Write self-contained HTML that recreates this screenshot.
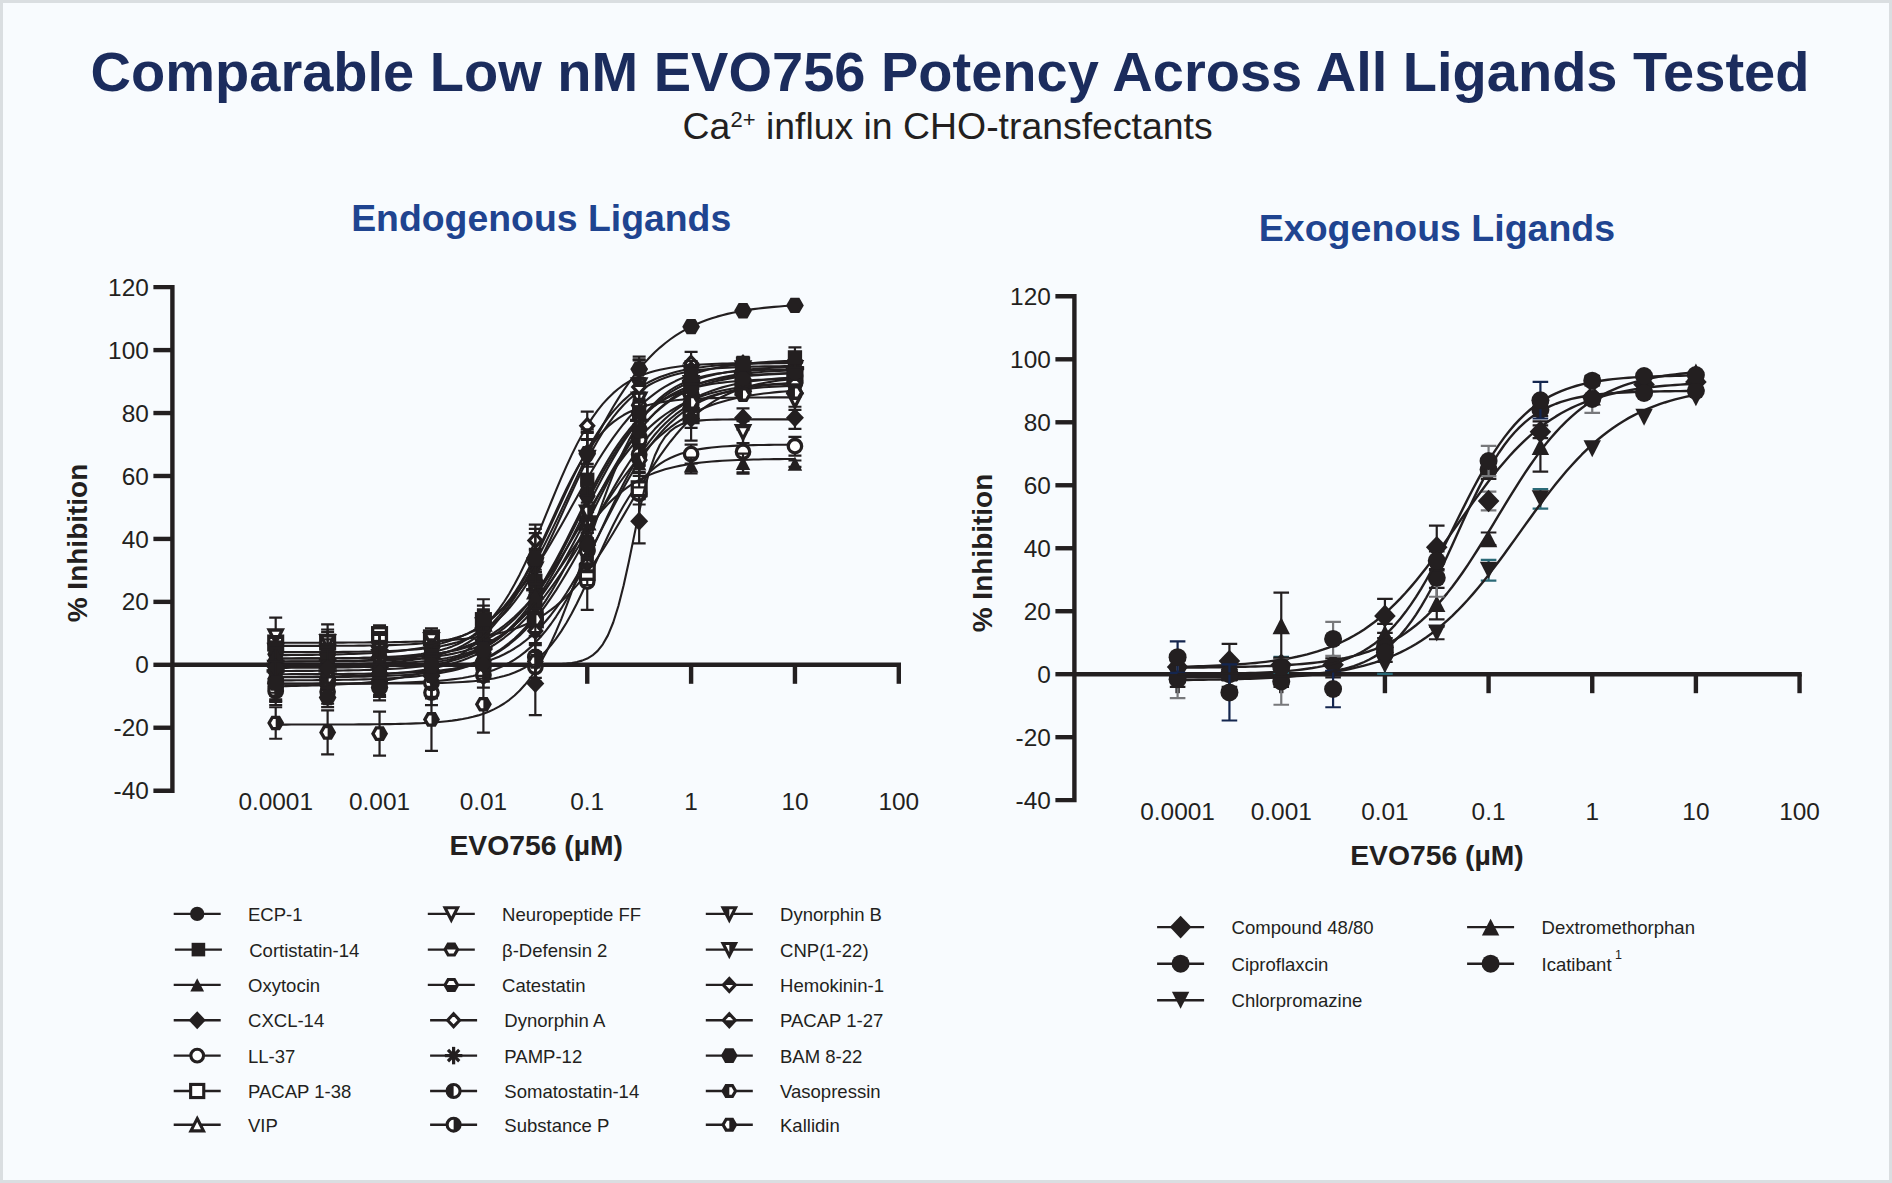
<!DOCTYPE html>
<html lang="en"><head><meta charset="utf-8"><title>Comparable Low nM EVO756 Potency Across All Ligands Tested</title>
<style>
html,body{margin:0;padding:0;background:#f8fbfe;}
body{width:1892px;height:1183px;overflow:hidden;position:relative;}
svg{position:absolute;left:0;top:0;display:block;}
svg text{font-family:"Liberation Sans", Arial, Helvetica, sans-serif;fill:#231f20;}
</style></head><body>
<svg width="1892" height="1183" viewBox="0 0 1892 1183">
<rect x="0" y="0" width="1892" height="1183" fill="#dadee1"/>
<rect x="3" y="3" width="1886" height="1177" fill="#f8fbfe"/>

<text x="950" y="90.7" text-anchor="middle" font-size="56" font-weight="bold" style="fill:#1b2c5d">Comparable Low nM EVO756 Potency Across All Ligands Tested</text>
<text x="682.6" y="139.3" font-size="37.4">Ca<tspan font-size="22" dy="-12.3">2+</tspan><tspan dy="12.3"> influx in CHO-transfectants</tspan></text>
<text x="541.2" y="231.2" text-anchor="middle" font-size="37.4" font-weight="bold" style="fill:#1f4490">Endogenous Ligands</text>
<text x="1437" y="241.2" text-anchor="middle" font-size="37.5" font-weight="bold" style="fill:#1f4490">Exogenous Ligands</text>
<g id="left-chart">
<path d="M153.4,287.16 H172.4 V790.68 H153.4" fill="none" stroke="#231f20" stroke-width="4.4" stroke-linejoin="miter"/>
<line x1="153.4" y1="727.74" x2="172.4" y2="727.74" stroke="#231f20" stroke-width="4.4"/>
<line x1="153.4" y1="664.8" x2="172.4" y2="664.8" stroke="#231f20" stroke-width="4.4"/>
<line x1="153.4" y1="601.86" x2="172.4" y2="601.86" stroke="#231f20" stroke-width="4.4"/>
<line x1="153.4" y1="538.92" x2="172.4" y2="538.92" stroke="#231f20" stroke-width="4.4"/>
<line x1="153.4" y1="475.98" x2="172.4" y2="475.98" stroke="#231f20" stroke-width="4.4"/>
<line x1="153.4" y1="413.04" x2="172.4" y2="413.04" stroke="#231f20" stroke-width="4.4"/>
<line x1="153.4" y1="350.1" x2="172.4" y2="350.1" stroke="#231f20" stroke-width="4.4"/>
<line x1="172.4" y1="664.8" x2="901" y2="664.8" stroke="#231f20" stroke-width="4.4"/>
<line x1="275.7" y1="664.8" x2="275.7" y2="683.8" stroke="#231f20" stroke-width="4.4"/>
<line x1="379.55" y1="664.8" x2="379.55" y2="683.8" stroke="#231f20" stroke-width="4.4"/>
<line x1="483.4" y1="664.8" x2="483.4" y2="683.8" stroke="#231f20" stroke-width="4.4"/>
<line x1="587.25" y1="664.8" x2="587.25" y2="683.8" stroke="#231f20" stroke-width="4.4"/>
<line x1="691.1" y1="664.8" x2="691.1" y2="683.8" stroke="#231f20" stroke-width="4.4"/>
<line x1="794.95" y1="664.8" x2="794.95" y2="683.8" stroke="#231f20" stroke-width="4.4"/>
<line x1="898.8" y1="664.8" x2="898.8" y2="683.8" stroke="#231f20" stroke-width="4.4"/>
<text x="148.8" y="799.28" text-anchor="end" font-size="24.4">-40</text>
<text x="148.8" y="736.34" text-anchor="end" font-size="24.4">-20</text>
<text x="148.8" y="673.4" text-anchor="end" font-size="24.4">0</text>
<text x="148.8" y="610.46" text-anchor="end" font-size="24.4">20</text>
<text x="148.8" y="547.52" text-anchor="end" font-size="24.4">40</text>
<text x="148.8" y="484.58" text-anchor="end" font-size="24.4">60</text>
<text x="148.8" y="421.64" text-anchor="end" font-size="24.4">80</text>
<text x="148.8" y="358.7" text-anchor="end" font-size="24.4">100</text>
<text x="148.8" y="295.76" text-anchor="end" font-size="24.4">120</text>
<text x="275.7" y="809.88" text-anchor="middle" font-size="24.4">0.0001</text>
<text x="379.55" y="809.88" text-anchor="middle" font-size="24.4">0.001</text>
<text x="483.4" y="809.88" text-anchor="middle" font-size="24.4">0.01</text>
<text x="587.25" y="809.88" text-anchor="middle" font-size="24.4">0.1</text>
<text x="691.1" y="809.88" text-anchor="middle" font-size="24.4">1</text>
<text x="794.95" y="809.88" text-anchor="middle" font-size="24.4">10</text>
<text x="898.8" y="809.88" text-anchor="middle" font-size="24.4">100</text>
<g>
<path d="M275.7,674.64 V699.38 M269.2,674.64 H282.2 M269.2,699.38 H282.2" fill="none" stroke="#231f20" stroke-width="2.2"/>
<path d="M327.62,679.59 V703.77 M321.12,679.59 H334.12 M321.12,703.77 H334.12" fill="none" stroke="#231f20" stroke-width="2.2"/>
<path d="M379.55,669.02 V697.02 M373.05,669.02 H386.05 M373.05,697.02 H386.05" fill="none" stroke="#231f20" stroke-width="2.2"/>
<path d="M431.47,680.02 V705.19 M424.97,680.02 H437.97 M424.97,705.19 H437.97" fill="none" stroke="#231f20" stroke-width="2.2"/>
<path d="M483.4,658.07 V676.95 M476.9,658.07 H489.9 M476.9,676.95 H489.9" fill="none" stroke="#231f20" stroke-width="2.2"/>
<path d="M535.33,652.26 V681.71 M528.83,652.26 H541.83 M528.83,681.71 H541.83" fill="none" stroke="#231f20" stroke-width="2.2"/>
<path d="M587.25,553.23 V609.87 M580.75,553.23 H593.75 M580.75,609.87 H593.75" fill="none" stroke="#231f20" stroke-width="2.2"/>
<path d="M639.17,465.94 V521.86 M632.67,465.94 H645.67 M632.67,521.86 H645.67" fill="none" stroke="#231f20" stroke-width="2.2"/>
<path d="M691.1,444.59 V463.48 M684.6,444.59 H697.6 M684.6,463.48 H697.6" fill="none" stroke="#231f20" stroke-width="2.2"/>
<path d="M743.02,429.71 V473.77 M736.52,429.71 H749.52 M736.52,473.77 H749.52" fill="none" stroke="#231f20" stroke-width="2.2"/>
<path d="M794.95,436.78 V455.66 M788.45,436.78 H801.45 M788.45,455.66 H801.45" fill="none" stroke="#231f20" stroke-width="2.2"/>
<path d="M275.7,683.68 L280.89,683.68 L286.08,683.68 L291.28,683.68 L296.47,683.68 L301.66,683.68 L306.85,683.68 L312.05,683.68 L317.24,683.67 L322.43,683.67 L327.62,683.67 L332.82,683.67 L338.01,683.67 L343.2,683.66 L348.39,683.66 L353.59,683.65 L358.78,683.65 L363.97,683.64 L369.16,683.63 L374.36,683.62 L379.55,683.61 L384.74,683.59 L389.94,683.57 L395.13,683.55 L400.32,683.52 L405.51,683.49 L410.7,683.44 L415.9,683.39 L421.09,683.33 L426.28,683.25 L431.47,683.16 L436.67,683.05 L441.86,682.92 L447.05,682.75 L452.25,682.55 L457.44,682.31 L462.63,682.02 L467.82,681.67 L473.01,681.24 L478.21,680.72 L483.4,680.1 L488.59,679.34 L493.78,678.43 L498.98,677.33 L504.17,676.01 L509.36,674.43 L514.55,672.53 L519.75,670.27 L524.94,667.58 L530.13,664.4 L535.33,660.66 L540.52,656.29 L545.71,651.2 L550.9,645.34 L556.1,638.66 L561.29,631.11 L566.48,622.7 L571.67,613.45 L576.87,603.42 L582.06,592.74 L587.25,581.55 L592.44,570.04 L597.63,558.41 L602.83,546.89 L608.02,535.69 L613.21,525 L618.4,514.96 L623.6,505.69 L628.79,497.26 L633.98,489.69 L639.17,482.99 L644.37,477.11 L649.56,472.01 L654.75,467.62 L659.94,463.86 L665.14,460.67 L670.33,457.98 L675.52,455.71 L680.71,453.8 L685.91,452.21 L691.1,450.89 L696.29,449.78 L701.48,448.87 L706.68,448.11 L711.87,447.48 L717.06,446.96 L722.25,446.53 L727.45,446.18 L732.64,445.88 L737.83,445.64 L743.02,445.44 L748.22,445.28 L753.41,445.14 L758.6,445.03 L763.79,444.94 L768.99,444.86 L774.18,444.8 L779.37,444.75 L784.57,444.71 L789.76,444.67 L794.95,444.64" fill="none" stroke="#231f20" stroke-width="2.1" stroke-linejoin="round"/>
<circle cx="275.7" cy="687.01" r="6.7" fill="#fff" stroke="#231f20" stroke-width="3.3"/>
<circle cx="327.62" cy="691.68" r="6.7" fill="#fff" stroke="#231f20" stroke-width="3.3"/>
<circle cx="379.55" cy="683.02" r="6.7" fill="#fff" stroke="#231f20" stroke-width="3.3"/>
<circle cx="431.47" cy="692.6" r="6.7" fill="#fff" stroke="#231f20" stroke-width="3.3"/>
<circle cx="483.4" cy="667.51" r="6.7" fill="#fff" stroke="#231f20" stroke-width="3.3"/>
<circle cx="535.33" cy="666.98" r="6.7" fill="#fff" stroke="#231f20" stroke-width="3.3"/>
<circle cx="587.25" cy="581.55" r="6.7" fill="#fff" stroke="#231f20" stroke-width="3.3"/>
<circle cx="639.17" cy="493.9" r="6.7" fill="#fff" stroke="#231f20" stroke-width="3.3"/>
<circle cx="691.1" cy="454.03" r="6.7" fill="#fff" stroke="#231f20" stroke-width="3.3"/>
<circle cx="743.02" cy="451.74" r="6.7" fill="#fff" stroke="#231f20" stroke-width="3.3"/>
<circle cx="794.95" cy="446.22" r="6.7" fill="#fff" stroke="#231f20" stroke-width="3.3"/>
</g>
<g>
<path d="M275.7,631.02 V655 M269.2,631.02 H282.2 M269.2,655 H282.2" fill="none" stroke="#231f20" stroke-width="2.2"/>
<path d="M327.62,624.42 V659.89 M321.12,624.42 H334.12 M321.12,659.89 H334.12" fill="none" stroke="#231f20" stroke-width="2.2"/>
<path d="M379.55,625.45 V643.75 M373.05,625.45 H386.05 M373.05,643.75 H386.05" fill="none" stroke="#231f20" stroke-width="2.2"/>
<path d="M431.47,628.46 V647.34 M424.97,628.46 H437.97 M424.97,647.34 H437.97" fill="none" stroke="#231f20" stroke-width="2.2"/>
<path d="M483.4,611.15 V630.03 M476.9,611.15 H489.9 M476.9,630.03 H489.9" fill="none" stroke="#231f20" stroke-width="2.2"/>
<path d="M535.33,610.37 V629.25 M528.83,610.37 H541.83 M528.83,629.25 H541.83" fill="none" stroke="#231f20" stroke-width="2.2"/>
<path d="M587.25,559.81 V584.98 M580.75,559.81 H593.75 M580.75,584.98 H593.75" fill="none" stroke="#231f20" stroke-width="2.2"/>
<path d="M639.17,473.01 V504.48 M632.67,473.01 H645.67 M632.67,504.48 H645.67" fill="none" stroke="#231f20" stroke-width="2.2"/>
<path d="M691.1,390.77 V440.68 M684.6,390.77 H697.6 M684.6,440.68 H697.6" fill="none" stroke="#231f20" stroke-width="2.2"/>
<path d="M743.02,383.18 V391.53 M736.52,383.18 H749.52 M736.52,391.53 H749.52" fill="none" stroke="#231f20" stroke-width="2.2"/>
<path d="M275.7,642.74 L280.89,642.73 L286.08,642.73 L291.28,642.72 L296.47,642.72 L301.66,642.71 L306.85,642.7 L312.05,642.69 L317.24,642.68 L322.43,642.67 L327.62,642.65 L332.82,642.63 L338.01,642.61 L343.2,642.59 L348.39,642.57 L353.59,642.54 L358.78,642.5 L363.97,642.47 L369.16,642.42 L374.36,642.37 L379.55,642.31 L384.74,642.25 L389.94,642.18 L395.13,642.09 L400.32,641.99 L405.51,641.88 L410.7,641.76 L415.9,641.61 L421.09,641.45 L426.28,641.26 L431.47,641.04 L436.67,640.8 L441.86,640.52 L447.05,640.2 L452.25,639.84 L457.44,639.42 L462.63,638.95 L467.82,638.42 L473.01,637.81 L478.21,637.11 L483.4,636.32 L488.59,635.43 L493.78,634.41 L498.98,633.26 L504.17,631.95 L509.36,630.48 L514.55,628.82 L519.75,626.94 L524.94,624.83 L530.13,622.46 L535.33,619.81 L540.52,616.84 L545.71,613.55 L550.9,609.88 L556.1,605.83 L561.29,601.37 L566.48,596.48 L571.67,591.14 L576.87,585.35 L582.06,579.1 L587.25,572.39 L592.44,565.25 L597.63,557.7 L602.83,549.77 L608.02,541.51 L613.21,532.98 L618.4,524.25 L623.6,515.38 L628.79,506.45 L633.98,497.55 L639.17,488.75 L644.37,480.12 L649.56,471.74 L654.75,463.67 L659.94,455.95 L665.14,448.63 L670.33,441.74 L675.52,435.29 L680.71,429.31 L685.91,423.78 L691.1,418.7 L696.29,414.06 L701.48,409.83 L706.68,406.01 L711.87,402.56 L717.06,399.46 L722.25,396.68 L727.45,394.19 L732.64,391.97 L737.83,390 L743.02,388.25 L748.22,386.7 L753.41,385.32 L758.6,384.11 L763.79,383.04 L768.99,382.09 L774.18,381.26 L779.37,380.52 L784.57,379.88 L789.76,379.31 L794.95,378.81" fill="none" stroke="#231f20" stroke-width="2.1" stroke-linejoin="round"/>
<rect x="268.8" y="636.11" width="13.8" height="13.8" fill="#fff" stroke="#231f20" stroke-width="3.3"/>
<rect x="320.73" y="635.26" width="13.8" height="13.8" fill="#fff" stroke="#231f20" stroke-width="3.3"/>
<rect x="372.65" y="627.7" width="13.8" height="13.8" fill="#fff" stroke="#231f20" stroke-width="3.3"/>
<rect x="424.57" y="631" width="13.8" height="13.8" fill="#fff" stroke="#231f20" stroke-width="3.3"/>
<rect x="476.5" y="613.69" width="13.8" height="13.8" fill="#fff" stroke="#231f20" stroke-width="3.3"/>
<rect x="528.43" y="612.91" width="13.8" height="13.8" fill="#fff" stroke="#231f20" stroke-width="3.3"/>
<rect x="580.35" y="565.49" width="13.8" height="13.8" fill="#fff" stroke="#231f20" stroke-width="3.3"/>
<rect x="632.27" y="481.85" width="13.8" height="13.8" fill="#fff" stroke="#231f20" stroke-width="3.3"/>
<rect x="684.2" y="408.82" width="13.8" height="13.8" fill="#fff" stroke="#231f20" stroke-width="3.3"/>
<rect x="736.12" y="380.45" width="13.8" height="13.8" fill="#fff" stroke="#231f20" stroke-width="3.3"/>
<rect x="788.05" y="367.65" width="13.8" height="13.8" fill="#fff" stroke="#231f20" stroke-width="3.3"/>
</g>
<g>
<path d="M275.7,645.83 V663.2 M269.2,645.83 H282.2 M269.2,663.2 H282.2" fill="none" stroke="#231f20" stroke-width="2.2"/>
<path d="M327.62,653.39 V669.12 M321.12,653.39 H334.12 M321.12,669.12 H334.12" fill="none" stroke="#231f20" stroke-width="2.2"/>
<path d="M431.47,643.73 V651.08 M424.97,643.73 H437.97 M424.97,651.08 H437.97" fill="none" stroke="#231f20" stroke-width="2.2"/>
<path d="M483.4,619.57 V627.72 M476.9,619.57 H489.9 M476.9,627.72 H489.9" fill="none" stroke="#231f20" stroke-width="2.2"/>
<path d="M535.33,577.72 V605.06 M528.83,577.72 H541.83 M528.83,605.06 H541.83" fill="none" stroke="#231f20" stroke-width="2.2"/>
<path d="M587.25,505.72 V539.3 M580.75,505.72 H593.75 M580.75,539.3 H593.75" fill="none" stroke="#231f20" stroke-width="2.2"/>
<path d="M639.17,408.3 V452.82 M632.67,408.3 H645.67 M632.67,452.82 H645.67" fill="none" stroke="#231f20" stroke-width="2.2"/>
<path d="M691.1,391.2 V409.96 M684.6,391.2 H697.6 M684.6,409.96 H697.6" fill="none" stroke="#231f20" stroke-width="2.2"/>
<path d="M743.02,379.85 V387.99 M736.52,379.85 H749.52 M736.52,387.99 H749.52" fill="none" stroke="#231f20" stroke-width="2.2"/>
<path d="M275.7,661.5 L280.89,661.47 L286.08,661.45 L291.28,661.42 L296.47,661.39 L301.66,661.36 L306.85,661.32 L312.05,661.27 L317.24,661.22 L322.43,661.16 L327.62,661.09 L332.82,661.02 L338.01,660.93 L343.2,660.84 L348.39,660.73 L353.59,660.6 L358.78,660.46 L363.97,660.3 L369.16,660.12 L374.36,659.92 L379.55,659.68 L384.74,659.42 L389.94,659.12 L395.13,658.78 L400.32,658.4 L405.51,657.96 L410.7,657.47 L415.9,656.92 L421.09,656.29 L426.28,655.58 L431.47,654.78 L436.67,653.88 L441.86,652.87 L447.05,651.72 L452.25,650.44 L457.44,648.99 L462.63,647.37 L467.82,645.55 L473.01,643.52 L478.21,641.25 L483.4,638.72 L488.59,635.91 L493.78,632.79 L498.98,629.34 L504.17,625.54 L509.36,621.37 L514.55,616.8 L519.75,611.82 L524.94,606.42 L530.13,600.59 L535.33,594.32 L540.52,587.63 L545.71,580.54 L550.9,573.05 L556.1,565.21 L561.29,557.05 L566.48,548.62 L571.67,539.99 L576.87,531.22 L582.06,522.36 L587.25,513.51 L592.44,504.71 L597.63,496.05 L602.83,487.59 L608.02,479.38 L613.21,471.48 L618.4,463.93 L623.6,456.76 L628.79,450.01 L633.98,443.67 L639.17,437.76 L644.37,432.29 L649.56,427.24 L654.75,422.6 L659.94,418.36 L665.14,414.5 L670.33,411 L675.52,407.82 L680.71,404.96 L685.91,402.39 L691.1,400.07 L696.29,398 L701.48,396.15 L706.68,394.5 L711.87,393.02 L717.06,391.71 L722.25,390.54 L727.45,389.5 L732.64,388.58 L737.83,387.77 L743.02,387.04 L748.22,386.4 L753.41,385.84 L758.6,385.34 L763.79,384.89 L768.99,384.5 L774.18,384.16 L779.37,383.85 L784.57,383.58 L789.76,383.34 L794.95,383.14" fill="none" stroke="#231f20" stroke-width="2.1" stroke-linejoin="round"/>
<polygon points="275.7,648.07 282.3,660.97 269.1,660.97" fill="#fff" stroke="#231f20" stroke-width="3.3" stroke-linejoin="miter" />
<polygon points="327.62,654.81 334.23,667.71 321.02,667.71" fill="#fff" stroke="#231f20" stroke-width="3.3" stroke-linejoin="miter" />
<polygon points="379.55,644.46 386.15,657.36 372.95,657.36" fill="#fff" stroke="#231f20" stroke-width="3.3" stroke-linejoin="miter" />
<polygon points="431.47,640.95 438.07,653.85 424.87,653.85" fill="#fff" stroke="#231f20" stroke-width="3.3" stroke-linejoin="miter" />
<polygon points="483.4,617.2 490,630.1 476.8,630.1" fill="#fff" stroke="#231f20" stroke-width="3.3" stroke-linejoin="miter" />
<polygon points="535.33,584.94 541.93,597.84 528.73,597.84" fill="#fff" stroke="#231f20" stroke-width="3.3" stroke-linejoin="miter" />
<polygon points="587.25,516.06 593.85,528.96 580.65,528.96" fill="#fff" stroke="#231f20" stroke-width="3.3" stroke-linejoin="miter" />
<polygon points="639.17,424.11 645.77,437.01 632.57,437.01" fill="#fff" stroke="#231f20" stroke-width="3.3" stroke-linejoin="miter" />
<polygon points="691.1,394.13 697.7,407.03 684.5,407.03" fill="#fff" stroke="#231f20" stroke-width="3.3" stroke-linejoin="miter" />
<polygon points="743.02,377.47 749.62,390.37 736.42,390.37" fill="#fff" stroke="#231f20" stroke-width="3.3" stroke-linejoin="miter" />
<polygon points="794.95,379.66 801.55,392.56 788.35,392.56" fill="#fff" stroke="#231f20" stroke-width="3.3" stroke-linejoin="miter" />
</g>
<g>
<path d="M275.7,617.58 V655.34 M269.2,617.58 H282.2 M269.2,655.34 H282.2" fill="none" stroke="#231f20" stroke-width="2.2"/>
<path d="M327.62,629.52 V654.87 M321.12,629.52 H334.12 M321.12,654.87 H334.12" fill="none" stroke="#231f20" stroke-width="2.2"/>
<path d="M379.55,632.2 V666.85 M373.05,632.2 H386.05 M373.05,666.85 H386.05" fill="none" stroke="#231f20" stroke-width="2.2"/>
<path d="M483.4,605.69 V644.92 M476.9,605.69 H489.9 M476.9,644.92 H489.9" fill="none" stroke="#231f20" stroke-width="2.2"/>
<path d="M535.33,550.69 V588.23 M528.83,550.69 H541.83 M528.83,588.23 H541.83" fill="none" stroke="#231f20" stroke-width="2.2"/>
<path d="M587.25,431.77 V483.72 M580.75,431.77 H593.75 M580.75,483.72 H593.75" fill="none" stroke="#231f20" stroke-width="2.2"/>
<path d="M639.17,392.49 V406.47 M632.67,392.49 H645.67 M632.67,406.47 H645.67" fill="none" stroke="#231f20" stroke-width="2.2"/>
<path d="M691.1,392.74 V411.62 M684.6,392.74 H697.6 M684.6,411.62 H697.6" fill="none" stroke="#231f20" stroke-width="2.2"/>
<path d="M743.02,421.18 V443.21 M736.52,421.18 H749.52 M736.52,443.21 H749.52" fill="none" stroke="#231f20" stroke-width="2.2"/>
<path d="M794.95,391.05 V409.94 M788.45,391.05 H801.45 M788.45,409.94 H801.45" fill="none" stroke="#231f20" stroke-width="2.2"/>
<path d="M275.7,645.9 L280.89,645.9 L286.08,645.9 L291.28,645.89 L296.47,645.89 L301.66,645.88 L306.85,645.88 L312.05,645.87 L317.24,645.86 L322.43,645.84 L327.62,645.83 L332.82,645.81 L338.01,645.79 L343.2,645.76 L348.39,645.73 L353.59,645.69 L358.78,645.65 L363.97,645.59 L369.16,645.53 L374.36,645.45 L379.55,645.36 L384.74,645.24 L389.94,645.11 L395.13,644.94 L400.32,644.75 L405.51,644.51 L410.7,644.23 L415.9,643.89 L421.09,643.49 L426.28,643 L431.47,642.42 L436.67,641.72 L441.86,640.89 L447.05,639.9 L452.25,638.71 L457.44,637.31 L462.63,635.64 L467.82,633.66 L473.01,631.33 L478.21,628.58 L483.4,625.36 L488.59,621.61 L493.78,617.26 L498.98,612.25 L504.17,606.52 L509.36,600.02 L514.55,592.73 L519.75,584.62 L524.94,575.72 L530.13,566.09 L535.33,555.79 L540.52,544.96 L545.71,533.76 L550.9,522.35 L556.1,510.92 L561.29,499.68 L566.48,488.8 L571.67,478.43 L576.87,468.7 L582.06,459.7 L587.25,451.49 L592.44,444.09 L597.63,437.49 L602.83,431.67 L608.02,426.57 L613.21,422.13 L618.4,418.31 L623.6,415.03 L628.79,412.23 L633.98,409.84 L639.17,407.82 L644.37,406.12 L649.56,404.68 L654.75,403.47 L659.94,402.45 L665.14,401.6 L670.33,400.89 L675.52,400.29 L680.71,399.8 L685.91,399.38 L691.1,399.03 L696.29,398.74 L701.48,398.5 L706.68,398.3 L711.87,398.14 L717.06,398 L722.25,397.88 L727.45,397.78 L732.64,397.7 L737.83,397.64 L743.02,397.58 L748.22,397.53 L753.41,397.5 L758.6,397.46 L763.79,397.44 L768.99,397.41 L774.18,397.4 L779.37,397.38 L784.57,397.37 L789.76,397.36 L794.95,397.35" fill="none" stroke="#231f20" stroke-width="2.1" stroke-linejoin="round"/>
<polygon points="275.7,642.91 282.3,630.01 269.1,630.01" fill="#fff" stroke="#231f20" stroke-width="3.3" stroke-linejoin="miter" />
<polygon points="327.62,648.64 334.23,635.74 321.02,635.74" fill="#fff" stroke="#231f20" stroke-width="3.3" stroke-linejoin="miter" />
<polygon points="379.55,655.97 386.15,643.07 372.95,643.07" fill="#fff" stroke="#231f20" stroke-width="3.3" stroke-linejoin="miter" />
<polygon points="431.47,646.51 438.07,633.61 424.87,633.61" fill="#fff" stroke="#231f20" stroke-width="3.3" stroke-linejoin="miter" />
<polygon points="483.4,631.76 490,618.86 476.8,618.86" fill="#fff" stroke="#231f20" stroke-width="3.3" stroke-linejoin="miter" />
<polygon points="535.33,575.91 541.93,563.01 528.73,563.01" fill="#fff" stroke="#231f20" stroke-width="3.3" stroke-linejoin="miter" />
<polygon points="587.25,464.19 593.85,451.29 580.65,451.29" fill="#fff" stroke="#231f20" stroke-width="3.3" stroke-linejoin="miter" />
<polygon points="639.17,405.93 645.77,393.03 632.57,393.03" fill="#fff" stroke="#231f20" stroke-width="3.3" stroke-linejoin="miter" />
<polygon points="691.1,408.63 697.7,395.73 684.5,395.73" fill="#fff" stroke="#231f20" stroke-width="3.3" stroke-linejoin="miter" />
<polygon points="743.02,438.65 749.62,425.75 736.42,425.75" fill="#fff" stroke="#231f20" stroke-width="3.3" stroke-linejoin="miter" />
<polygon points="794.95,406.95 801.55,394.05 788.35,394.05" fill="#fff" stroke="#231f20" stroke-width="3.3" stroke-linejoin="miter" />
</g>
<g>
<path d="M275.7,654.66 V677.38 M269.2,654.66 H282.2 M269.2,677.38 H282.2" fill="none" stroke="#231f20" stroke-width="2.2"/>
<path d="M327.62,650.32 V656.57 M321.12,650.32 H334.12 M321.12,656.57 H334.12" fill="none" stroke="#231f20" stroke-width="2.2"/>
<path d="M379.55,651.41 V665.38 M373.05,651.41 H386.05 M373.05,665.38 H386.05" fill="none" stroke="#231f20" stroke-width="2.2"/>
<path d="M483.4,626.53 V653.23 M476.9,626.53 H489.9 M476.9,653.23 H489.9" fill="none" stroke="#231f20" stroke-width="2.2"/>
<path d="M535.33,524.67 V556.14 M528.83,524.67 H541.83 M528.83,556.14 H541.83" fill="none" stroke="#231f20" stroke-width="2.2"/>
<path d="M587.25,411.54 V439.86 M580.75,411.54 H593.75 M580.75,439.86 H593.75" fill="none" stroke="#231f20" stroke-width="2.2"/>
<path d="M639.17,359.24 V378.11 M632.67,359.24 H645.67 M632.67,378.11 H645.67" fill="none" stroke="#231f20" stroke-width="2.2"/>
<path d="M691.1,351.82 V374.79 M684.6,351.82 H697.6 M684.6,374.79 H697.6" fill="none" stroke="#231f20" stroke-width="2.2"/>
<path d="M743.02,365.29 V373.28 M736.52,365.29 H749.52 M736.52,373.28 H749.52" fill="none" stroke="#231f20" stroke-width="2.2"/>
<path d="M794.95,353.95 V371.36 M788.45,353.95 H801.45 M788.45,371.36 H801.45" fill="none" stroke="#231f20" stroke-width="2.2"/>
<path d="M275.7,658.47 L280.89,658.46 L286.08,658.45 L291.28,658.44 L296.47,658.43 L301.66,658.42 L306.85,658.4 L312.05,658.38 L317.24,658.36 L322.43,658.33 L327.62,658.3 L332.82,658.26 L338.01,658.22 L343.2,658.16 L348.39,658.1 L353.59,658.02 L358.78,657.93 L363.97,657.82 L369.16,657.7 L374.36,657.55 L379.55,657.37 L384.74,657.15 L389.94,656.9 L395.13,656.6 L400.32,656.25 L405.51,655.83 L410.7,655.34 L415.9,654.75 L421.09,654.06 L426.28,653.24 L431.47,652.28 L436.67,651.14 L441.86,649.8 L447.05,648.23 L452.25,646.39 L457.44,644.23 L462.63,641.71 L467.82,638.78 L473.01,635.37 L478.21,631.44 L483.4,626.92 L488.59,621.74 L493.78,615.85 L498.98,609.2 L504.17,601.74 L509.36,593.46 L514.55,584.34 L519.75,574.4 L524.94,563.71 L530.13,552.34 L535.33,540.4 L540.52,528.05 L545.71,515.44 L550.9,502.76 L556.1,490.2 L561.29,477.93 L566.48,466.11 L571.67,454.89 L576.87,444.37 L582.06,434.63 L587.25,425.7 L592.44,417.61 L597.63,410.35 L602.83,403.88 L608.02,398.17 L613.21,393.15 L618.4,388.77 L623.6,384.97 L628.79,381.68 L633.98,378.85 L639.17,376.42 L644.37,374.34 L649.56,372.57 L654.75,371.05 L659.94,369.77 L665.14,368.67 L670.33,367.75 L675.52,366.96 L680.71,366.29 L685.91,365.73 L691.1,365.26 L696.29,364.85 L701.48,364.52 L706.68,364.23 L711.87,363.99 L717.06,363.78 L722.25,363.61 L727.45,363.47 L732.64,363.34 L737.83,363.24 L743.02,363.15 L748.22,363.08 L753.41,363.02 L758.6,362.97 L763.79,362.92 L768.99,362.89 L774.18,362.85 L779.37,362.83 L784.57,362.81 L789.76,362.79 L794.95,362.77" fill="none" stroke="#231f20" stroke-width="2.1" stroke-linejoin="round"/>
<polygon points="275.7,659.22 282,666.02 275.7,672.82 269.4,666.02" fill="#fff" stroke="#231f20" stroke-width="3.3" stroke-linejoin="miter" />
<polygon points="327.62,646.65 333.93,653.45 327.62,660.25 321.32,653.45" fill="#fff" stroke="#231f20" stroke-width="3.3" stroke-linejoin="miter" />
<polygon points="379.55,651.59 385.85,658.39 379.55,665.19 373.25,658.39" fill="#fff" stroke="#231f20" stroke-width="3.3" stroke-linejoin="miter" />
<polygon points="431.47,641.06 437.77,647.86 431.47,654.66 425.17,647.86" fill="#fff" stroke="#231f20" stroke-width="3.3" stroke-linejoin="miter" />
<polygon points="483.4,633.08 489.7,639.88 483.4,646.68 477.1,639.88" fill="#fff" stroke="#231f20" stroke-width="3.3" stroke-linejoin="miter" />
<polygon points="535.33,533.6 541.62,540.4 535.33,547.2 529.03,540.4" fill="#fff" stroke="#231f20" stroke-width="3.3" stroke-linejoin="miter" />
<polygon points="587.25,418.9 593.55,425.7 587.25,432.5 580.95,425.7" fill="#fff" stroke="#231f20" stroke-width="3.3" stroke-linejoin="miter" />
<polygon points="639.17,361.88 645.47,368.68 639.17,375.48 632.88,368.68" fill="#fff" stroke="#231f20" stroke-width="3.3" stroke-linejoin="miter" />
<polygon points="691.1,356.51 697.4,363.31 691.1,370.11 684.8,363.31" fill="#fff" stroke="#231f20" stroke-width="3.3" stroke-linejoin="miter" />
<polygon points="743.02,362.49 749.32,369.29 743.02,376.09 736.73,369.29" fill="#fff" stroke="#231f20" stroke-width="3.3" stroke-linejoin="miter" />
<polygon points="794.95,355.85 801.25,362.65 794.95,369.45 788.65,362.65" fill="#fff" stroke="#231f20" stroke-width="3.3" stroke-linejoin="miter" />
</g>
<g>
<path d="M275.7,650.46 V689.69 M269.2,650.46 H282.2 M269.2,689.69 H282.2" fill="none" stroke="#231f20" stroke-width="2.2"/>
<path d="M379.55,668.12 V679.8 M373.05,668.12 H386.05 M373.05,679.8 H386.05" fill="none" stroke="#231f20" stroke-width="2.2"/>
<path d="M431.47,662.92 V678.15 M424.97,662.92 H437.97 M424.97,678.15 H437.97" fill="none" stroke="#231f20" stroke-width="2.2"/>
<path d="M483.4,651.47 V669.31 M476.9,651.47 H489.9 M476.9,669.31 H489.9" fill="none" stroke="#231f20" stroke-width="2.2"/>
<path d="M535.33,591.93 V629.47 M528.83,591.93 H541.83 M528.83,629.47 H541.83" fill="none" stroke="#231f20" stroke-width="2.2"/>
<path d="M587.25,502.7 V538.03 M580.75,502.7 H593.75 M580.75,538.03 H593.75" fill="none" stroke="#231f20" stroke-width="2.2"/>
<path d="M639.17,426.68 V443.58 M632.67,426.68 H645.67 M632.67,443.58 H645.67" fill="none" stroke="#231f20" stroke-width="2.2"/>
<path d="M691.1,367.6 V403.99 M684.6,367.6 H697.6 M684.6,403.99 H697.6" fill="none" stroke="#231f20" stroke-width="2.2"/>
<path d="M275.7,677.31 L280.89,677.3 L286.08,677.29 L291.28,677.27 L296.47,677.25 L301.66,677.23 L306.85,677.21 L312.05,677.18 L317.24,677.15 L322.43,677.12 L327.62,677.08 L332.82,677.03 L338.01,676.98 L343.2,676.92 L348.39,676.85 L353.59,676.77 L358.78,676.68 L363.97,676.58 L369.16,676.46 L374.36,676.32 L379.55,676.17 L384.74,675.98 L389.94,675.78 L395.13,675.54 L400.32,675.27 L405.51,674.96 L410.7,674.6 L415.9,674.19 L421.09,673.72 L426.28,673.19 L431.47,672.58 L436.67,671.88 L441.86,671.08 L447.05,670.16 L452.25,669.12 L457.44,667.93 L462.63,666.58 L467.82,665.05 L473.01,663.3 L478.21,661.32 L483.4,659.08 L488.59,656.56 L493.78,653.71 L498.98,650.5 L504.17,646.91 L509.36,642.9 L514.55,638.44 L519.75,633.49 L524.94,628.03 L530.13,622.03 L535.33,615.47 L540.52,608.35 L545.71,600.67 L550.9,592.43 L556.1,583.67 L561.29,574.42 L566.48,564.74 L571.67,554.69 L576.87,544.35 L582.06,533.82 L587.25,523.18 L592.44,512.55 L597.63,502.02 L602.83,491.68 L608.02,481.63 L613.21,471.95 L618.4,462.7 L623.6,453.94 L628.79,445.7 L633.98,438.02 L639.17,430.9 L644.37,424.34 L649.56,418.34 L654.75,412.88 L659.94,407.93 L665.14,403.47 L670.33,399.46 L675.52,395.87 L680.71,392.66 L685.91,389.81 L691.1,387.29 L696.29,385.05 L701.48,383.07 L706.68,381.32 L711.87,379.79 L717.06,378.44 L722.25,377.25 L727.45,376.21 L732.64,375.29 L737.83,374.49 L743.02,373.79 L748.22,373.18 L753.41,372.65 L758.6,372.18 L763.79,371.77 L768.99,371.41 L774.18,371.1 L779.37,370.83 L784.57,370.59 L789.76,370.39 L794.95,370.2" fill="none" stroke="#231f20" stroke-width="2.1" stroke-linejoin="round"/>
<polygon points="282.3,670.07 279,675.79 272.4,675.79 269.1,670.07 272.4,664.36 279,664.36" fill="#fff" stroke="#231f20" stroke-width="3.3" stroke-linejoin="miter" /><polygon points="269.1,670.07 272.4,664.36 279,664.36 282.3,670.07" fill="#231f20" stroke="#231f20" stroke-width="0" stroke-linejoin="miter" />
<polygon points="334.23,678.72 330.93,684.44 324.32,684.44 321.02,678.72 324.32,673 330.93,673" fill="#fff" stroke="#231f20" stroke-width="3.3" stroke-linejoin="miter" /><polygon points="321.02,678.72 324.32,673 330.93,673 334.23,678.72" fill="#231f20" stroke="#231f20" stroke-width="0" stroke-linejoin="miter" />
<polygon points="386.15,673.96 382.85,679.68 376.25,679.68 372.95,673.96 376.25,668.24 382.85,668.24" fill="#fff" stroke="#231f20" stroke-width="3.3" stroke-linejoin="miter" /><polygon points="372.95,673.96 376.25,668.24 382.85,668.24 386.15,673.96" fill="#231f20" stroke="#231f20" stroke-width="0" stroke-linejoin="miter" />
<polygon points="438.07,670.53 434.77,676.25 428.17,676.25 424.87,670.53 428.17,664.82 434.77,664.82" fill="#fff" stroke="#231f20" stroke-width="3.3" stroke-linejoin="miter" /><polygon points="424.87,670.53 428.17,664.82 434.77,664.82 438.07,670.53" fill="#231f20" stroke="#231f20" stroke-width="0" stroke-linejoin="miter" />
<polygon points="490,660.39 486.7,666.1 480.1,666.1 476.8,660.39 480.1,654.67 486.7,654.67" fill="#fff" stroke="#231f20" stroke-width="3.3" stroke-linejoin="miter" /><polygon points="476.8,660.39 480.1,654.67 486.7,654.67 490,660.39" fill="#231f20" stroke="#231f20" stroke-width="0" stroke-linejoin="miter" />
<polygon points="541.93,610.7 538.62,616.42 532.03,616.42 528.73,610.7 532.03,604.98 538.62,604.98" fill="#fff" stroke="#231f20" stroke-width="3.3" stroke-linejoin="miter" /><polygon points="528.73,610.7 532.03,604.98 538.62,604.98 541.93,610.7" fill="#231f20" stroke="#231f20" stroke-width="0" stroke-linejoin="miter" />
<polygon points="593.85,520.36 590.55,526.08 583.95,526.08 580.65,520.36 583.95,514.65 590.55,514.65" fill="#fff" stroke="#231f20" stroke-width="3.3" stroke-linejoin="miter" /><polygon points="580.65,520.36 583.95,514.65 590.55,514.65 593.85,520.36" fill="#231f20" stroke="#231f20" stroke-width="0" stroke-linejoin="miter" />
<polygon points="645.77,435.13 642.47,440.84 635.88,440.84 632.57,435.13 635.88,429.41 642.47,429.41" fill="#fff" stroke="#231f20" stroke-width="3.3" stroke-linejoin="miter" /><polygon points="632.57,435.13 635.88,429.41 642.47,429.41 645.77,435.13" fill="#231f20" stroke="#231f20" stroke-width="0" stroke-linejoin="miter" />
<polygon points="697.7,385.79 694.4,391.51 687.8,391.51 684.5,385.79 687.8,380.08 694.4,380.08" fill="#fff" stroke="#231f20" stroke-width="3.3" stroke-linejoin="miter" /><polygon points="684.5,385.79 687.8,380.08 694.4,380.08 697.7,385.79" fill="#231f20" stroke="#231f20" stroke-width="0" stroke-linejoin="miter" />
<polygon points="749.62,373.06 746.32,378.77 739.73,378.77 736.42,373.06 739.73,367.34 746.32,367.34" fill="#fff" stroke="#231f20" stroke-width="3.3" stroke-linejoin="miter" /><polygon points="736.42,373.06 739.73,367.34 746.32,367.34 749.62,373.06" fill="#231f20" stroke="#231f20" stroke-width="0" stroke-linejoin="miter" />
<polygon points="801.55,370.79 798.25,376.51 791.65,376.51 788.35,370.79 791.65,365.08 798.25,365.08" fill="#fff" stroke="#231f20" stroke-width="3.3" stroke-linejoin="miter" /><polygon points="788.35,370.79 791.65,365.08 798.25,365.08 801.55,370.79" fill="#231f20" stroke="#231f20" stroke-width="0" stroke-linejoin="miter" />
</g>
<g>
<path d="M275.7,636.07 V672.6 M269.2,636.07 H282.2 M269.2,672.6 H282.2" fill="none" stroke="#231f20" stroke-width="2.2"/>
<path d="M327.62,639.32 V670.67 M321.12,639.32 H334.12 M321.12,670.67 H334.12" fill="none" stroke="#231f20" stroke-width="2.2"/>
<path d="M379.55,644.31 V669.71 M373.05,644.31 H386.05 M373.05,669.71 H386.05" fill="none" stroke="#231f20" stroke-width="2.2"/>
<path d="M431.47,644.46 V668.17 M424.97,644.46 H437.97 M424.97,668.17 H437.97" fill="none" stroke="#231f20" stroke-width="2.2"/>
<path d="M483.4,609.38 V640.03 M476.9,609.38 H489.9 M476.9,640.03 H489.9" fill="none" stroke="#231f20" stroke-width="2.2"/>
<path d="M535.33,569.75 V592.82 M528.83,569.75 H541.83 M528.83,592.82 H541.83" fill="none" stroke="#231f20" stroke-width="2.2"/>
<path d="M587.25,482.09 V509.75 M580.75,482.09 H593.75 M580.75,509.75 H593.75" fill="none" stroke="#231f20" stroke-width="2.2"/>
<path d="M639.17,386.3 V424.08 M632.67,386.3 H645.67 M632.67,424.08 H645.67" fill="none" stroke="#231f20" stroke-width="2.2"/>
<path d="M691.1,385.64 V392.5 M684.6,385.64 H697.6 M684.6,392.5 H697.6" fill="none" stroke="#231f20" stroke-width="2.2"/>
<path d="M794.95,375.4 V386.57 M788.45,375.4 H801.45 M788.45,386.57 H801.45" fill="none" stroke="#231f20" stroke-width="2.2"/>
<path d="M275.7,658.46 L280.89,658.45 L286.08,658.44 L291.28,658.43 L296.47,658.42 L301.66,658.41 L306.85,658.39 L312.05,658.37 L317.24,658.35 L322.43,658.32 L327.62,658.3 L332.82,658.26 L338.01,658.22 L343.2,658.18 L348.39,658.12 L353.59,658.06 L358.78,657.99 L363.97,657.91 L369.16,657.81 L374.36,657.7 L379.55,657.57 L384.74,657.42 L389.94,657.24 L395.13,657.04 L400.32,656.81 L405.51,656.53 L410.7,656.22 L415.9,655.85 L421.09,655.43 L426.28,654.94 L431.47,654.37 L436.67,653.71 L441.86,652.95 L447.05,652.08 L452.25,651.07 L457.44,649.9 L462.63,648.56 L467.82,647.02 L473.01,645.26 L478.21,643.23 L483.4,640.92 L488.59,638.29 L493.78,635.29 L498.98,631.9 L504.17,628.07 L509.36,623.77 L514.55,618.96 L519.75,613.59 L524.94,607.66 L530.13,601.13 L535.33,594 L540.52,586.27 L545.71,577.96 L550.9,569.11 L556.1,559.77 L561.29,550 L566.48,539.9 L571.67,529.57 L576.87,519.11 L582.06,508.65 L587.25,498.29 L592.44,488.16 L597.63,478.35 L602.83,468.95 L608.02,460.03 L613.21,451.65 L618.4,443.85 L623.6,436.65 L628.79,430.04 L633.98,424.04 L639.17,418.61 L644.37,413.72 L649.56,409.36 L654.75,405.47 L659.94,402.03 L665.14,398.99 L670.33,396.31 L675.52,393.97 L680.71,391.91 L685.91,390.11 L691.1,388.55 L696.29,387.18 L701.48,386 L706.68,384.97 L711.87,384.08 L717.06,383.31 L722.25,382.64 L727.45,382.06 L732.64,381.56 L737.83,381.13 L743.02,380.75 L748.22,380.43 L753.41,380.16 L758.6,379.92 L763.79,379.71 L768.99,379.53 L774.18,379.38 L779.37,379.25 L784.57,379.13 L789.76,379.03 L794.95,378.95" fill="none" stroke="#231f20" stroke-width="2.1" stroke-linejoin="round"/>
<polygon points="282.3,654.34 279,660.05 272.4,660.05 269.1,654.34 272.4,648.62 279,648.62" fill="#fff" stroke="#231f20" stroke-width="3.3" stroke-linejoin="miter" /><polygon points="269.1,654.34 272.4,660.05 279,660.05 282.3,654.34" fill="#231f20" stroke="#231f20" stroke-width="0" stroke-linejoin="miter" />
<polygon points="334.23,655 330.93,660.71 324.32,660.71 321.02,655 324.32,649.28 330.93,649.28" fill="#fff" stroke="#231f20" stroke-width="3.3" stroke-linejoin="miter" /><polygon points="321.02,655 324.32,660.71 330.93,660.71 334.23,655" fill="#231f20" stroke="#231f20" stroke-width="0" stroke-linejoin="miter" />
<polygon points="386.15,657.01 382.85,662.73 376.25,662.73 372.95,657.01 376.25,651.29 382.85,651.29" fill="#fff" stroke="#231f20" stroke-width="3.3" stroke-linejoin="miter" /><polygon points="372.95,657.01 376.25,662.73 382.85,662.73 386.15,657.01" fill="#231f20" stroke="#231f20" stroke-width="0" stroke-linejoin="miter" />
<polygon points="438.07,656.31 434.77,662.03 428.17,662.03 424.87,656.31 428.17,650.6 434.77,650.6" fill="#fff" stroke="#231f20" stroke-width="3.3" stroke-linejoin="miter" /><polygon points="424.87,656.31 428.17,662.03 434.77,662.03 438.07,656.31" fill="#231f20" stroke="#231f20" stroke-width="0" stroke-linejoin="miter" />
<polygon points="490,624.7 486.7,630.42 480.1,630.42 476.8,624.7 480.1,618.99 486.7,618.99" fill="#fff" stroke="#231f20" stroke-width="3.3" stroke-linejoin="miter" /><polygon points="476.8,624.7 480.1,630.42 486.7,630.42 490,624.7" fill="#231f20" stroke="#231f20" stroke-width="0" stroke-linejoin="miter" />
<polygon points="541.93,581.29 538.62,587 532.03,587 528.73,581.29 532.03,575.57 538.62,575.57" fill="#fff" stroke="#231f20" stroke-width="3.3" stroke-linejoin="miter" /><polygon points="528.73,581.29 532.03,587 538.62,587 541.93,581.29" fill="#231f20" stroke="#231f20" stroke-width="0" stroke-linejoin="miter" />
<polygon points="593.85,495.92 590.55,501.64 583.95,501.64 580.65,495.92 583.95,490.21 590.55,490.21" fill="#fff" stroke="#231f20" stroke-width="3.3" stroke-linejoin="miter" /><polygon points="580.65,495.92 583.95,501.64 590.55,501.64 593.85,495.92" fill="#231f20" stroke="#231f20" stroke-width="0" stroke-linejoin="miter" />
<polygon points="645.77,405.19 642.47,410.91 635.88,410.91 632.57,405.19 635.88,399.48 642.47,399.48" fill="#fff" stroke="#231f20" stroke-width="3.3" stroke-linejoin="miter" /><polygon points="632.57,405.19 635.88,410.91 642.47,410.91 645.77,405.19" fill="#231f20" stroke="#231f20" stroke-width="0" stroke-linejoin="miter" />
<polygon points="697.7,389.07 694.4,394.79 687.8,394.79 684.5,389.07 687.8,383.35 694.4,383.35" fill="#fff" stroke="#231f20" stroke-width="3.3" stroke-linejoin="miter" /><polygon points="684.5,389.07 687.8,394.79 694.4,394.79 697.7,389.07" fill="#231f20" stroke="#231f20" stroke-width="0" stroke-linejoin="miter" />
<polygon points="749.62,378.93 746.32,384.64 739.73,384.64 736.42,378.93 739.73,373.21 746.32,373.21" fill="#fff" stroke="#231f20" stroke-width="3.3" stroke-linejoin="miter" /><polygon points="736.42,378.93 739.73,384.64 746.32,384.64 749.62,378.93" fill="#231f20" stroke="#231f20" stroke-width="0" stroke-linejoin="miter" />
<polygon points="801.55,380.99 798.25,386.7 791.65,386.7 788.35,380.99 791.65,375.27 798.25,375.27" fill="#fff" stroke="#231f20" stroke-width="3.3" stroke-linejoin="miter" /><polygon points="788.35,380.99 791.65,386.7 798.25,386.7 801.55,380.99" fill="#231f20" stroke="#231f20" stroke-width="0" stroke-linejoin="miter" />
</g>
<g>
<path d="M275.7,663.08 V678.77 M269.2,663.08 H282.2 M269.2,678.77 H282.2" fill="none" stroke="#231f20" stroke-width="2.2"/>
<path d="M379.55,657.86 V675.92 M373.05,657.86 H386.05 M373.05,675.92 H386.05" fill="none" stroke="#231f20" stroke-width="2.2"/>
<path d="M431.47,639.28 V676.93 M424.97,639.28 H437.97 M424.97,676.93 H437.97" fill="none" stroke="#231f20" stroke-width="2.2"/>
<path d="M483.4,633.95 V662.94 M476.9,633.95 H489.9 M476.9,662.94 H489.9" fill="none" stroke="#231f20" stroke-width="2.2"/>
<path d="M535.33,575.57 V603.83 M528.83,575.57 H541.83 M528.83,603.83 H541.83" fill="none" stroke="#231f20" stroke-width="2.2"/>
<path d="M587.25,509.24 V524.68 M580.75,509.24 H593.75 M580.75,524.68 H593.75" fill="none" stroke="#231f20" stroke-width="2.2"/>
<path d="M639.17,402.65 V438.01 M632.67,402.65 H645.67 M632.67,438.01 H645.67" fill="none" stroke="#231f20" stroke-width="2.2"/>
<path d="M691.1,368.9 V393.71 M684.6,368.9 H697.6 M684.6,393.71 H697.6" fill="none" stroke="#231f20" stroke-width="2.2"/>
<path d="M743.02,369.53 V377.87 M736.52,369.53 H749.52 M736.52,377.87 H749.52" fill="none" stroke="#231f20" stroke-width="2.2"/>
<path d="M794.95,364.79 V372.02 M788.45,364.79 H801.45 M788.45,372.02 H801.45" fill="none" stroke="#231f20" stroke-width="2.2"/>
<path d="M275.7,667.86 L280.89,667.85 L286.08,667.83 L291.28,667.82 L296.47,667.8 L301.66,667.78 L306.85,667.75 L312.05,667.72 L317.24,667.69 L322.43,667.65 L327.62,667.6 L332.82,667.55 L338.01,667.5 L343.2,667.43 L348.39,667.35 L353.59,667.26 L358.78,667.16 L363.97,667.05 L369.16,666.92 L374.36,666.76 L379.55,666.59 L384.74,666.39 L389.94,666.16 L395.13,665.9 L400.32,665.59 L405.51,665.25 L410.7,664.85 L415.9,664.4 L421.09,663.88 L426.28,663.29 L431.47,662.61 L436.67,661.83 L441.86,660.95 L447.05,659.94 L452.25,658.79 L457.44,657.48 L462.63,655.99 L467.82,654.3 L473.01,652.38 L478.21,650.21 L483.4,647.76 L488.59,645 L493.78,641.89 L498.98,638.41 L504.17,634.52 L509.36,630.18 L514.55,625.38 L519.75,620.07 L524.94,614.24 L530.13,607.86 L535.33,600.93 L540.52,593.45 L545.71,585.43 L550.9,576.89 L556.1,567.87 L561.29,558.42 L566.48,548.6 L571.67,538.5 L576.87,528.19 L582.06,517.78 L587.25,507.35 L592.44,497.02 L597.63,486.88 L602.83,477.01 L608.02,467.49 L613.21,458.39 L618.4,449.76 L623.6,441.65 L628.79,434.08 L633.98,427.06 L639.17,420.59 L644.37,414.67 L649.56,409.27 L654.75,404.38 L659.94,399.97 L665.14,396 L670.33,392.45 L675.52,389.29 L680.71,386.47 L685.91,383.96 L691.1,381.75 L696.29,379.79 L701.48,378.06 L706.68,376.54 L711.87,375.2 L717.06,374.03 L722.25,372.99 L727.45,372.09 L732.64,371.3 L737.83,370.6 L743.02,370 L748.22,369.47 L753.41,369 L758.6,368.6 L763.79,368.24 L768.99,367.94 L774.18,367.67 L779.37,367.43 L784.57,367.23 L789.76,367.05 L794.95,366.89" fill="none" stroke="#231f20" stroke-width="2.1" stroke-linejoin="round"/>
<line x1="275.7" y1="661.73" x2="275.7" y2="680.13" stroke="#231f20" stroke-width="3.4"/><line x1="281.64" y1="664.99" x2="269.76" y2="676.87" stroke="#231f20" stroke-width="3.4"/><line x1="284.9" y1="670.93" x2="266.5" y2="670.93" stroke="#231f20" stroke-width="3.4"/><line x1="281.64" y1="676.87" x2="269.76" y2="664.99" stroke="#231f20" stroke-width="3.4"/>
<line x1="327.62" y1="661.78" x2="327.62" y2="680.18" stroke="#231f20" stroke-width="3.4"/><line x1="333.56" y1="665.04" x2="321.69" y2="676.92" stroke="#231f20" stroke-width="3.4"/><line x1="336.82" y1="670.98" x2="318.43" y2="670.98" stroke="#231f20" stroke-width="3.4"/><line x1="333.56" y1="676.92" x2="321.69" y2="665.04" stroke="#231f20" stroke-width="3.4"/>
<line x1="379.55" y1="657.69" x2="379.55" y2="676.09" stroke="#231f20" stroke-width="3.4"/><line x1="385.49" y1="660.95" x2="373.61" y2="672.83" stroke="#231f20" stroke-width="3.4"/><line x1="388.75" y1="666.89" x2="370.35" y2="666.89" stroke="#231f20" stroke-width="3.4"/><line x1="385.49" y1="672.83" x2="373.61" y2="660.95" stroke="#231f20" stroke-width="3.4"/>
<line x1="431.47" y1="648.9" x2="431.47" y2="667.3" stroke="#231f20" stroke-width="3.4"/><line x1="437.41" y1="652.17" x2="425.54" y2="664.04" stroke="#231f20" stroke-width="3.4"/><line x1="440.67" y1="658.1" x2="422.27" y2="658.1" stroke="#231f20" stroke-width="3.4"/><line x1="437.41" y1="664.04" x2="425.54" y2="652.17" stroke="#231f20" stroke-width="3.4"/>
<line x1="483.4" y1="639.24" x2="483.4" y2="657.64" stroke="#231f20" stroke-width="3.4"/><line x1="489.34" y1="642.5" x2="477.46" y2="654.38" stroke="#231f20" stroke-width="3.4"/><line x1="492.6" y1="648.44" x2="474.2" y2="648.44" stroke="#231f20" stroke-width="3.4"/><line x1="489.34" y1="654.38" x2="477.46" y2="642.5" stroke="#231f20" stroke-width="3.4"/>
<line x1="535.33" y1="580.5" x2="535.33" y2="598.9" stroke="#231f20" stroke-width="3.4"/><line x1="541.26" y1="583.76" x2="529.39" y2="595.64" stroke="#231f20" stroke-width="3.4"/><line x1="544.53" y1="589.7" x2="526.12" y2="589.7" stroke="#231f20" stroke-width="3.4"/><line x1="541.26" y1="595.64" x2="529.39" y2="583.76" stroke="#231f20" stroke-width="3.4"/>
<line x1="587.25" y1="507.76" x2="587.25" y2="526.16" stroke="#231f20" stroke-width="3.4"/><line x1="593.19" y1="511.02" x2="581.31" y2="522.9" stroke="#231f20" stroke-width="3.4"/><line x1="596.45" y1="516.96" x2="578.05" y2="516.96" stroke="#231f20" stroke-width="3.4"/><line x1="593.19" y1="522.9" x2="581.31" y2="511.02" stroke="#231f20" stroke-width="3.4"/>
<line x1="639.17" y1="411.13" x2="639.17" y2="429.53" stroke="#231f20" stroke-width="3.4"/><line x1="645.11" y1="414.39" x2="633.24" y2="426.27" stroke="#231f20" stroke-width="3.4"/><line x1="648.38" y1="420.33" x2="629.97" y2="420.33" stroke="#231f20" stroke-width="3.4"/><line x1="645.11" y1="426.27" x2="633.24" y2="414.39" stroke="#231f20" stroke-width="3.4"/>
<line x1="691.1" y1="372.1" x2="691.1" y2="390.5" stroke="#231f20" stroke-width="3.4"/><line x1="697.04" y1="375.36" x2="685.16" y2="387.24" stroke="#231f20" stroke-width="3.4"/><line x1="700.3" y1="381.3" x2="681.9" y2="381.3" stroke="#231f20" stroke-width="3.4"/><line x1="697.04" y1="387.24" x2="685.16" y2="375.36" stroke="#231f20" stroke-width="3.4"/>
<line x1="743.02" y1="364.5" x2="743.02" y2="382.9" stroke="#231f20" stroke-width="3.4"/><line x1="748.96" y1="367.76" x2="737.09" y2="379.64" stroke="#231f20" stroke-width="3.4"/><line x1="752.23" y1="373.7" x2="733.82" y2="373.7" stroke="#231f20" stroke-width="3.4"/><line x1="748.96" y1="379.64" x2="737.09" y2="367.76" stroke="#231f20" stroke-width="3.4"/>
<line x1="794.95" y1="359.21" x2="794.95" y2="377.61" stroke="#231f20" stroke-width="3.4"/><line x1="800.89" y1="362.47" x2="789.01" y2="374.35" stroke="#231f20" stroke-width="3.4"/><line x1="804.15" y1="368.41" x2="785.75" y2="368.41" stroke="#231f20" stroke-width="3.4"/><line x1="800.89" y1="374.35" x2="789.01" y2="362.47" stroke="#231f20" stroke-width="3.4"/>
</g>
<g>
<path d="M275.7,662.03 V700.8 M269.2,662.03 H282.2 M269.2,700.8 H282.2" fill="none" stroke="#231f20" stroke-width="2.2"/>
<path d="M327.62,676.97 V689.8 M321.12,676.97 H334.12 M321.12,689.8 H334.12" fill="none" stroke="#231f20" stroke-width="2.2"/>
<path d="M379.55,662.24 V700.39 M373.05,662.24 H386.05 M373.05,700.39 H386.05" fill="none" stroke="#231f20" stroke-width="2.2"/>
<path d="M431.47,664.6 V680.18 M424.97,664.6 H437.97 M424.97,680.18 H437.97" fill="none" stroke="#231f20" stroke-width="2.2"/>
<path d="M483.4,646.66 V681.59 M476.9,646.66 H489.9 M476.9,681.59 H489.9" fill="none" stroke="#231f20" stroke-width="2.2"/>
<path d="M535.33,600.28 V636.23 M528.83,600.28 H541.83 M528.83,636.23 H541.83" fill="none" stroke="#231f20" stroke-width="2.2"/>
<path d="M587.25,529.57 V570.46 M580.75,529.57 H593.75 M580.75,570.46 H593.75" fill="none" stroke="#231f20" stroke-width="2.2"/>
<path d="M639.17,431.4 V447.82 M632.67,431.4 H645.67 M632.67,447.82 H645.67" fill="none" stroke="#231f20" stroke-width="2.2"/>
<path d="M691.1,393.7 V415.45 M684.6,393.7 H697.6 M684.6,415.45 H697.6" fill="none" stroke="#231f20" stroke-width="2.2"/>
<path d="M743.02,381.26 V387.49 M736.52,381.26 H749.52 M736.52,387.49 H749.52" fill="none" stroke="#231f20" stroke-width="2.2"/>
<path d="M794.95,367.58 V384.36 M788.45,367.58 H801.45 M788.45,384.36 H801.45" fill="none" stroke="#231f20" stroke-width="2.2"/>
<path d="M275.7,680.4 L280.89,680.38 L286.08,680.36 L291.28,680.33 L296.47,680.31 L301.66,680.28 L306.85,680.24 L312.05,680.2 L317.24,680.16 L322.43,680.1 L327.62,680.05 L332.82,679.98 L338.01,679.91 L343.2,679.82 L348.39,679.73 L353.59,679.62 L358.78,679.49 L363.97,679.35 L369.16,679.19 L374.36,679.01 L379.55,678.81 L384.74,678.58 L389.94,678.32 L395.13,678.02 L400.32,677.68 L405.51,677.3 L410.7,676.87 L415.9,676.38 L421.09,675.83 L426.28,675.21 L431.47,674.5 L436.67,673.71 L441.86,672.81 L447.05,671.79 L452.25,670.65 L457.44,669.37 L462.63,667.92 L467.82,666.3 L473.01,664.48 L478.21,662.44 L483.4,660.16 L488.59,657.61 L493.78,654.78 L498.98,651.63 L504.17,648.14 L509.36,644.29 L514.55,640.05 L519.75,635.39 L524.94,630.3 L530.13,624.75 L535.33,618.75 L540.52,612.27 L545.71,605.32 L550.9,597.92 L556.1,590.07 L561.29,581.81 L566.48,573.16 L571.67,564.19 L576.87,554.95 L582.06,545.49 L587.25,535.9 L592.44,526.24 L597.63,516.6 L602.83,507.04 L608.02,497.65 L613.21,488.5 L618.4,479.63 L623.6,471.12 L628.79,462.99 L633.98,455.29 L639.17,448.04 L644.37,441.26 L649.56,434.94 L654.75,429.1 L659.94,423.71 L665.14,418.77 L670.33,414.26 L675.52,410.15 L680.71,406.43 L685.91,403.06 L691.1,400.02 L696.29,397.29 L701.48,394.84 L706.68,392.64 L711.87,390.68 L717.06,388.93 L722.25,387.37 L727.45,385.98 L732.64,384.75 L737.83,383.65 L743.02,382.68 L748.22,381.82 L753.41,381.06 L758.6,380.38 L763.79,379.78 L768.99,379.25 L774.18,378.78 L779.37,378.37 L784.57,378.01 L789.76,377.68 L794.95,377.4" fill="none" stroke="#231f20" stroke-width="2.1" stroke-linejoin="round"/>
<circle cx="275.7" cy="681.41" r="6.8" fill="#fff" stroke="#231f20" stroke-width="3.3"/><path d="M275.7,674.61 A6.8,6.8 0 0 0 275.7,688.21 Z" fill="#231f20"/>
<circle cx="327.62" cy="683.38" r="6.8" fill="#fff" stroke="#231f20" stroke-width="3.3"/><path d="M327.62,676.58 A6.8,6.8 0 0 0 327.62,690.18 Z" fill="#231f20"/>
<circle cx="379.55" cy="681.31" r="6.8" fill="#fff" stroke="#231f20" stroke-width="3.3"/><path d="M379.55,674.51 A6.8,6.8 0 0 0 379.55,688.11 Z" fill="#231f20"/>
<circle cx="431.47" cy="672.39" r="6.8" fill="#fff" stroke="#231f20" stroke-width="3.3"/><path d="M431.47,665.59 A6.8,6.8 0 0 0 431.47,679.19 Z" fill="#231f20"/>
<circle cx="483.4" cy="664.12" r="6.8" fill="#fff" stroke="#231f20" stroke-width="3.3"/><path d="M483.4,657.32 A6.8,6.8 0 0 0 483.4,670.92 Z" fill="#231f20"/>
<circle cx="535.33" cy="618.25" r="6.8" fill="#fff" stroke="#231f20" stroke-width="3.3"/><path d="M535.33,611.45 A6.8,6.8 0 0 0 535.33,625.05 Z" fill="#231f20"/>
<circle cx="587.25" cy="550.01" r="6.8" fill="#fff" stroke="#231f20" stroke-width="3.3"/><path d="M587.25,543.21 A6.8,6.8 0 0 0 587.25,556.81 Z" fill="#231f20"/>
<circle cx="639.17" cy="439.61" r="6.8" fill="#fff" stroke="#231f20" stroke-width="3.3"/><path d="M639.17,432.81 A6.8,6.8 0 0 0 639.17,446.41 Z" fill="#231f20"/>
<circle cx="691.1" cy="404.57" r="6.8" fill="#fff" stroke="#231f20" stroke-width="3.3"/><path d="M691.1,397.77 A6.8,6.8 0 0 0 691.1,411.37 Z" fill="#231f20"/>
<circle cx="743.02" cy="384.38" r="6.8" fill="#fff" stroke="#231f20" stroke-width="3.3"/><path d="M743.02,377.58 A6.8,6.8 0 0 0 743.02,391.18 Z" fill="#231f20"/>
<circle cx="794.95" cy="375.97" r="6.8" fill="#fff" stroke="#231f20" stroke-width="3.3"/><path d="M794.95,369.17 A6.8,6.8 0 0 0 794.95,382.77 Z" fill="#231f20"/>
</g>
<g>
<path d="M275.7,680.03 V701.8 M269.2,680.03 H282.2 M269.2,701.8 H282.2" fill="none" stroke="#231f20" stroke-width="2.2"/>
<path d="M327.62,672.85 V687.13 M321.12,672.85 H334.12 M321.12,687.13 H334.12" fill="none" stroke="#231f20" stroke-width="2.2"/>
<path d="M379.55,680.27 V694.81 M373.05,680.27 H386.05 M373.05,694.81 H386.05" fill="none" stroke="#231f20" stroke-width="2.2"/>
<path d="M431.47,667.8 V698.41 M424.97,667.8 H437.97 M424.97,698.41 H437.97" fill="none" stroke="#231f20" stroke-width="2.2"/>
<path d="M483.4,662.53 V687.69 M476.9,662.53 H489.9 M476.9,687.69 H489.9" fill="none" stroke="#231f20" stroke-width="2.2"/>
<path d="M535.33,630.84 V683.02 M528.83,630.84 H541.83 M528.83,683.02 H541.83" fill="none" stroke="#231f20" stroke-width="2.2"/>
<path d="M587.25,544.61 V557.63 M580.75,544.61 H593.75 M580.75,557.63 H593.75" fill="none" stroke="#231f20" stroke-width="2.2"/>
<path d="M639.17,444.43 V464.51 M632.67,444.43 H645.67 M632.67,464.51 H645.67" fill="none" stroke="#231f20" stroke-width="2.2"/>
<path d="M691.1,383.21 V404.44 M684.6,383.21 H697.6 M684.6,404.44 H697.6" fill="none" stroke="#231f20" stroke-width="2.2"/>
<path d="M794.95,375.7 V391.03 M788.45,375.7 H801.45 M788.45,391.03 H801.45" fill="none" stroke="#231f20" stroke-width="2.2"/>
<path d="M275.7,683.66 L280.89,683.65 L286.08,683.65 L291.28,683.64 L296.47,683.63 L301.66,683.63 L306.85,683.62 L312.05,683.61 L317.24,683.59 L322.43,683.58 L327.62,683.56 L332.82,683.54 L338.01,683.52 L343.2,683.49 L348.39,683.46 L353.59,683.43 L358.78,683.39 L363.97,683.34 L369.16,683.29 L374.36,683.22 L379.55,683.15 L384.74,683.06 L389.94,682.96 L395.13,682.85 L400.32,682.71 L405.51,682.56 L410.7,682.38 L415.9,682.17 L421.09,681.92 L426.28,681.64 L431.47,681.32 L436.67,680.94 L441.86,680.5 L447.05,679.99 L452.25,679.4 L457.44,678.72 L462.63,677.94 L467.82,677.03 L473.01,675.99 L478.21,674.78 L483.4,673.4 L488.59,671.8 L493.78,669.97 L498.98,667.87 L504.17,665.48 L509.36,662.74 L514.55,659.63 L519.75,656.11 L524.94,652.13 L530.13,647.65 L535.33,642.63 L540.52,637.04 L545.71,630.84 L550.9,624.01 L556.1,616.54 L561.29,608.42 L566.48,599.69 L571.67,590.36 L576.87,580.49 L582.06,570.16 L587.25,559.45 L592.44,548.46 L597.63,537.32 L602.83,526.14 L608.02,515.05 L613.21,504.17 L618.4,493.62 L623.6,483.48 L628.79,473.84 L633.98,464.77 L639.17,456.31 L644.37,448.48 L649.56,441.29 L654.75,434.75 L659.94,428.82 L665.14,423.48 L670.33,418.71 L675.52,414.45 L680.71,410.68 L685.91,407.34 L691.1,404.4 L696.29,401.82 L701.48,399.56 L706.68,397.59 L711.87,395.87 L717.06,394.37 L722.25,393.06 L727.45,391.93 L732.64,390.95 L737.83,390.1 L743.02,389.36 L748.22,388.72 L753.41,388.17 L758.6,387.7 L763.79,387.29 L768.99,386.93 L774.18,386.63 L779.37,386.36 L784.57,386.14 L789.76,385.94 L794.95,385.77" fill="none" stroke="#231f20" stroke-width="2.1" stroke-linejoin="round"/>
<circle cx="275.7" cy="690.91" r="6.8" fill="#fff" stroke="#231f20" stroke-width="3.3"/><path d="M275.7,684.11 A6.8,6.8 0 0 1 275.7,697.71 Z" fill="#231f20"/>
<circle cx="327.62" cy="679.99" r="6.8" fill="#fff" stroke="#231f20" stroke-width="3.3"/><path d="M327.62,673.19 A6.8,6.8 0 0 1 327.62,686.79 Z" fill="#231f20"/>
<circle cx="379.55" cy="687.54" r="6.8" fill="#fff" stroke="#231f20" stroke-width="3.3"/><path d="M379.55,680.74 A6.8,6.8 0 0 1 379.55,694.34 Z" fill="#231f20"/>
<circle cx="431.47" cy="683.11" r="6.8" fill="#fff" stroke="#231f20" stroke-width="3.3"/><path d="M431.47,676.31 A6.8,6.8 0 0 1 431.47,689.91 Z" fill="#231f20"/>
<circle cx="483.4" cy="675.11" r="6.8" fill="#fff" stroke="#231f20" stroke-width="3.3"/><path d="M483.4,668.31 A6.8,6.8 0 0 1 483.4,681.91 Z" fill="#231f20"/>
<circle cx="535.33" cy="656.93" r="6.8" fill="#fff" stroke="#231f20" stroke-width="3.3"/><path d="M535.33,650.13 A6.8,6.8 0 0 1 535.33,663.73 Z" fill="#231f20"/>
<circle cx="587.25" cy="551.12" r="6.8" fill="#fff" stroke="#231f20" stroke-width="3.3"/><path d="M587.25,544.32 A6.8,6.8 0 0 1 587.25,557.92 Z" fill="#231f20"/>
<circle cx="639.17" cy="454.47" r="6.8" fill="#fff" stroke="#231f20" stroke-width="3.3"/><path d="M639.17,447.67 A6.8,6.8 0 0 1 639.17,461.27 Z" fill="#231f20"/>
<circle cx="691.1" cy="393.83" r="6.8" fill="#fff" stroke="#231f20" stroke-width="3.3"/><path d="M691.1,387.03 A6.8,6.8 0 0 1 691.1,400.63 Z" fill="#231f20"/>
<circle cx="743.02" cy="388.14" r="6.8" fill="#fff" stroke="#231f20" stroke-width="3.3"/><path d="M743.02,381.34 A6.8,6.8 0 0 1 743.02,394.94 Z" fill="#231f20"/>
<circle cx="794.95" cy="383.36" r="6.8" fill="#fff" stroke="#231f20" stroke-width="3.3"/><path d="M794.95,376.56 A6.8,6.8 0 0 1 794.95,390.16 Z" fill="#231f20"/>
</g>
<g>
<path d="M275.7,644.59 V656.89 M269.2,644.59 H282.2 M269.2,656.89 H282.2" fill="none" stroke="#231f20" stroke-width="2.2"/>
<path d="M327.62,631.83 V673.51 M321.12,631.83 H334.12 M321.12,673.51 H334.12" fill="none" stroke="#231f20" stroke-width="2.2"/>
<path d="M379.55,635 V673.22 M373.05,635 H386.05 M373.05,673.22 H386.05" fill="none" stroke="#231f20" stroke-width="2.2"/>
<path d="M431.47,643.83 V656.86 M424.97,643.83 H437.97 M424.97,656.86 H437.97" fill="none" stroke="#231f20" stroke-width="2.2"/>
<path d="M483.4,618.06 V653.19 M476.9,618.06 H489.9 M476.9,653.19 H489.9" fill="none" stroke="#231f20" stroke-width="2.2"/>
<path d="M535.33,548.81 V581.79 M528.83,548.81 H541.83 M528.83,581.79 H541.83" fill="none" stroke="#231f20" stroke-width="2.2"/>
<path d="M587.25,429.28 V487.4 M580.75,429.28 H593.75 M580.75,487.4 H593.75" fill="none" stroke="#231f20" stroke-width="2.2"/>
<path d="M639.17,360.43 V410.18 M632.67,360.43 H645.67 M632.67,410.18 H645.67" fill="none" stroke="#231f20" stroke-width="2.2"/>
<path d="M691.1,366.14 V379.01 M684.6,366.14 H697.6 M684.6,379.01 H697.6" fill="none" stroke="#231f20" stroke-width="2.2"/>
<path d="M794.95,362.62 V373.75 M788.45,362.62 H801.45 M788.45,373.75 H801.45" fill="none" stroke="#231f20" stroke-width="2.2"/>
<path d="M275.7,652.18 L280.89,652.17 L286.08,652.16 L291.28,652.15 L296.47,652.14 L301.66,652.13 L306.85,652.11 L312.05,652.1 L317.24,652.08 L322.43,652.05 L327.62,652.03 L332.82,651.99 L338.01,651.96 L343.2,651.91 L348.39,651.86 L353.59,651.8 L358.78,651.73 L363.97,651.64 L369.16,651.54 L374.36,651.42 L379.55,651.29 L384.74,651.13 L389.94,650.94 L395.13,650.71 L400.32,650.45 L405.51,650.15 L410.7,649.79 L415.9,649.37 L421.09,648.88 L426.28,648.31 L431.47,647.64 L436.67,646.85 L441.86,645.93 L447.05,644.86 L452.25,643.62 L457.44,642.17 L462.63,640.48 L467.82,638.53 L473.01,636.27 L478.21,633.66 L483.4,630.66 L488.59,627.22 L493.78,623.29 L498.98,618.82 L504.17,613.76 L509.36,608.07 L514.55,601.71 L519.75,594.66 L524.94,586.89 L530.13,578.41 L535.33,569.24 L540.52,559.43 L545.71,549.05 L550.9,538.19 L556.1,526.97 L561.29,515.52 L566.48,503.98 L571.67,492.52 L576.87,481.26 L582.06,470.35 L587.25,459.9 L592.44,450.01 L597.63,440.76 L602.83,432.19 L608.02,424.33 L613.21,417.18 L618.4,410.74 L623.6,404.97 L628.79,399.83 L633.98,395.29 L639.17,391.3 L644.37,387.8 L649.56,384.74 L654.75,382.09 L659.94,379.79 L665.14,377.8 L670.33,376.08 L675.52,374.6 L680.71,373.33 L685.91,372.24 L691.1,371.3 L696.29,370.5 L701.48,369.82 L706.68,369.23 L711.87,368.73 L717.06,368.3 L722.25,367.94 L727.45,367.63 L732.64,367.36 L737.83,367.14 L743.02,366.94 L748.22,366.78 L753.41,366.64 L758.6,366.52 L763.79,366.42 L768.99,366.33 L774.18,366.26 L779.37,366.19 L784.57,366.14 L789.76,366.1 L794.95,366.06" fill="none" stroke="#231f20" stroke-width="2.1" stroke-linejoin="round"/>
<polygon points="275.7,657.19 282.3,644.29 269.1,644.29" fill="#fff" stroke="#231f20" stroke-width="3.3" stroke-linejoin="miter" /><polygon points="275.7,657.19 275.7,644.29 269.1,644.29" fill="#231f20" stroke="#231f20" stroke-width="0" stroke-linejoin="miter" />
<polygon points="327.62,659.12 334.23,646.22 321.02,646.22" fill="#fff" stroke="#231f20" stroke-width="3.3" stroke-linejoin="miter" /><polygon points="327.62,659.12 327.62,646.22 321.02,646.22" fill="#231f20" stroke="#231f20" stroke-width="0" stroke-linejoin="miter" />
<polygon points="379.55,660.56 386.15,647.66 372.95,647.66" fill="#fff" stroke="#231f20" stroke-width="3.3" stroke-linejoin="miter" /><polygon points="379.55,660.56 379.55,647.66 372.95,647.66" fill="#231f20" stroke="#231f20" stroke-width="0" stroke-linejoin="miter" />
<polygon points="431.47,656.8 438.07,643.9 424.87,643.9" fill="#fff" stroke="#231f20" stroke-width="3.3" stroke-linejoin="miter" /><polygon points="431.47,656.8 431.47,643.9 424.87,643.9" fill="#231f20" stroke="#231f20" stroke-width="0" stroke-linejoin="miter" />
<polygon points="483.4,642.08 490,629.18 476.8,629.18" fill="#fff" stroke="#231f20" stroke-width="3.3" stroke-linejoin="miter" /><polygon points="483.4,642.08 483.4,629.18 476.8,629.18" fill="#231f20" stroke="#231f20" stroke-width="0" stroke-linejoin="miter" />
<polygon points="535.33,571.75 541.93,558.85 528.73,558.85" fill="#fff" stroke="#231f20" stroke-width="3.3" stroke-linejoin="miter" /><polygon points="535.33,571.75 535.33,558.85 528.73,558.85" fill="#231f20" stroke="#231f20" stroke-width="0" stroke-linejoin="miter" />
<polygon points="587.25,464.79 593.85,451.89 580.65,451.89" fill="#fff" stroke="#231f20" stroke-width="3.3" stroke-linejoin="miter" /><polygon points="587.25,464.79 587.25,451.89 580.65,451.89" fill="#231f20" stroke="#231f20" stroke-width="0" stroke-linejoin="miter" />
<polygon points="639.17,391.76 645.77,378.86 632.57,378.86" fill="#fff" stroke="#231f20" stroke-width="3.3" stroke-linejoin="miter" /><polygon points="639.17,391.76 639.17,378.86 632.57,378.86" fill="#231f20" stroke="#231f20" stroke-width="0" stroke-linejoin="miter" />
<polygon points="691.1,379.02 697.7,366.12 684.5,366.12" fill="#fff" stroke="#231f20" stroke-width="3.3" stroke-linejoin="miter" /><polygon points="691.1,379.02 691.1,366.12 684.5,366.12" fill="#231f20" stroke="#231f20" stroke-width="0" stroke-linejoin="miter" />
<polygon points="743.02,374.8 749.62,361.9 736.42,361.9" fill="#fff" stroke="#231f20" stroke-width="3.3" stroke-linejoin="miter" /><polygon points="743.02,374.8 743.02,361.9 736.42,361.9" fill="#231f20" stroke="#231f20" stroke-width="0" stroke-linejoin="miter" />
<polygon points="794.95,374.63 801.55,361.73 788.35,361.73" fill="#fff" stroke="#231f20" stroke-width="3.3" stroke-linejoin="miter" /><polygon points="794.95,374.63 794.95,361.73 788.35,361.73" fill="#231f20" stroke="#231f20" stroke-width="0" stroke-linejoin="miter" />
</g>
<g>
<path d="M275.7,654.58 V681.09 M269.2,654.58 H282.2 M269.2,681.09 H282.2" fill="none" stroke="#231f20" stroke-width="2.2"/>
<path d="M327.62,653.86 V679.6 M321.12,653.86 H334.12 M321.12,679.6 H334.12" fill="none" stroke="#231f20" stroke-width="2.2"/>
<path d="M379.55,634.06 V679.95 M373.05,634.06 H386.05 M373.05,679.95 H386.05" fill="none" stroke="#231f20" stroke-width="2.2"/>
<path d="M431.47,646.94 V663.33 M424.97,646.94 H437.97 M424.97,663.33 H437.97" fill="none" stroke="#231f20" stroke-width="2.2"/>
<path d="M483.4,635.38 V658.78 M476.9,635.38 H489.9 M476.9,658.78 H489.9" fill="none" stroke="#231f20" stroke-width="2.2"/>
<path d="M535.33,572.09 V604.64 M528.83,572.09 H541.83 M528.83,604.64 H541.83" fill="none" stroke="#231f20" stroke-width="2.2"/>
<path d="M587.25,492.23 V532.82 M580.75,492.23 H593.75 M580.75,532.82 H593.75" fill="none" stroke="#231f20" stroke-width="2.2"/>
<path d="M639.17,401.18 V437.25 M632.67,401.18 H645.67 M632.67,437.25 H645.67" fill="none" stroke="#231f20" stroke-width="2.2"/>
<path d="M691.1,368.42 V397.55 M684.6,368.42 H697.6 M684.6,397.55 H697.6" fill="none" stroke="#231f20" stroke-width="2.2"/>
<path d="M743.02,373.26 V382.85 M736.52,373.26 H749.52 M736.52,382.85 H749.52" fill="none" stroke="#231f20" stroke-width="2.2"/>
<path d="M275.7,661.58 L280.89,661.57 L286.08,661.56 L291.28,661.54 L296.47,661.53 L301.66,661.51 L306.85,661.49 L312.05,661.46 L317.24,661.43 L322.43,661.4 L327.62,661.36 L332.82,661.32 L338.01,661.27 L343.2,661.22 L348.39,661.15 L353.59,661.08 L358.78,660.99 L363.97,660.89 L369.16,660.78 L374.36,660.65 L379.55,660.5 L384.74,660.34 L389.94,660.14 L395.13,659.92 L400.32,659.66 L405.51,659.37 L410.7,659.04 L415.9,658.65 L421.09,658.21 L426.28,657.71 L431.47,657.14 L436.67,656.48 L441.86,655.73 L447.05,654.87 L452.25,653.89 L457.44,652.78 L462.63,651.51 L467.82,650.07 L473.01,648.43 L478.21,646.57 L483.4,644.47 L488.59,642.1 L493.78,639.42 L498.98,636.41 L504.17,633.04 L509.36,629.28 L514.55,625.09 L519.75,620.44 L524.94,615.31 L530.13,609.68 L535.33,603.53 L540.52,596.84 L545.71,589.63 L550.9,581.9 L556.1,573.67 L561.29,564.99 L566.48,555.9 L571.67,546.47 L576.87,536.76 L582.06,526.87 L587.25,516.89 L592.44,506.91 L597.63,497.02 L602.83,487.31 L608.02,477.88 L613.21,468.79 L618.4,460.11 L623.6,451.88 L628.79,444.15 L633.98,436.94 L639.17,430.25 L644.37,424.1 L649.56,418.47 L654.75,413.34 L659.94,408.69 L665.14,404.5 L670.33,400.74 L675.52,397.37 L680.71,394.36 L685.91,391.69 L691.1,389.31 L696.29,387.21 L701.48,385.35 L706.68,383.72 L711.87,382.27 L717.06,381 L722.25,379.89 L727.45,378.91 L732.64,378.05 L737.83,377.3 L743.02,376.65 L748.22,376.07 L753.41,375.57 L758.6,375.13 L763.79,374.75 L768.99,374.41 L774.18,374.12 L779.37,373.86 L784.57,373.64 L789.76,373.45 L794.95,373.28" fill="none" stroke="#231f20" stroke-width="2.1" stroke-linejoin="round"/>
<polygon points="275.7,674.29 282.3,661.39 269.1,661.39" fill="#fff" stroke="#231f20" stroke-width="3.3" stroke-linejoin="miter" /><polygon points="275.7,674.29 275.7,661.39 282.3,661.39" fill="#231f20" stroke="#231f20" stroke-width="0" stroke-linejoin="miter" />
<polygon points="327.62,673.18 334.23,660.28 321.02,660.28" fill="#fff" stroke="#231f20" stroke-width="3.3" stroke-linejoin="miter" /><polygon points="327.62,673.18 327.62,660.28 334.23,660.28" fill="#231f20" stroke="#231f20" stroke-width="0" stroke-linejoin="miter" />
<polygon points="379.55,663.46 386.15,650.56 372.95,650.56" fill="#fff" stroke="#231f20" stroke-width="3.3" stroke-linejoin="miter" /><polygon points="379.55,663.46 379.55,650.56 386.15,650.56" fill="#231f20" stroke="#231f20" stroke-width="0" stroke-linejoin="miter" />
<polygon points="431.47,661.58 438.07,648.68 424.87,648.68" fill="#fff" stroke="#231f20" stroke-width="3.3" stroke-linejoin="miter" /><polygon points="431.47,661.58 431.47,648.68 438.07,648.68" fill="#231f20" stroke="#231f20" stroke-width="0" stroke-linejoin="miter" />
<polygon points="483.4,653.53 490,640.63 476.8,640.63" fill="#fff" stroke="#231f20" stroke-width="3.3" stroke-linejoin="miter" /><polygon points="483.4,653.53 483.4,640.63 490,640.63" fill="#231f20" stroke="#231f20" stroke-width="0" stroke-linejoin="miter" />
<polygon points="535.33,594.81 541.93,581.91 528.73,581.91" fill="#fff" stroke="#231f20" stroke-width="3.3" stroke-linejoin="miter" /><polygon points="535.33,594.81 535.33,581.91 541.93,581.91" fill="#231f20" stroke="#231f20" stroke-width="0" stroke-linejoin="miter" />
<polygon points="587.25,518.97 593.85,506.07 580.65,506.07" fill="#fff" stroke="#231f20" stroke-width="3.3" stroke-linejoin="miter" /><polygon points="587.25,518.97 587.25,506.07 593.85,506.07" fill="#231f20" stroke="#231f20" stroke-width="0" stroke-linejoin="miter" />
<polygon points="639.17,425.67 645.77,412.77 632.57,412.77" fill="#fff" stroke="#231f20" stroke-width="3.3" stroke-linejoin="miter" /><polygon points="639.17,425.67 639.17,412.77 645.77,412.77" fill="#231f20" stroke="#231f20" stroke-width="0" stroke-linejoin="miter" />
<polygon points="691.1,389.43 697.7,376.53 684.5,376.53" fill="#fff" stroke="#231f20" stroke-width="3.3" stroke-linejoin="miter" /><polygon points="691.1,389.43 691.1,376.53 697.7,376.53" fill="#231f20" stroke="#231f20" stroke-width="0" stroke-linejoin="miter" />
<polygon points="743.02,384.5 749.62,371.6 736.42,371.6" fill="#fff" stroke="#231f20" stroke-width="3.3" stroke-linejoin="miter" /><polygon points="743.02,384.5 743.02,371.6 749.62,371.6" fill="#231f20" stroke="#231f20" stroke-width="0" stroke-linejoin="miter" />
<polygon points="794.95,380.83 801.55,367.93 788.35,367.93" fill="#fff" stroke="#231f20" stroke-width="3.3" stroke-linejoin="miter" /><polygon points="794.95,380.83 794.95,367.93 801.55,367.93" fill="#231f20" stroke="#231f20" stroke-width="0" stroke-linejoin="miter" />
</g>
<g>
<path d="M275.7,657.54 V674.87 M269.2,657.54 H282.2 M269.2,674.87 H282.2" fill="none" stroke="#231f20" stroke-width="2.2"/>
<path d="M327.62,643.85 V688.12 M321.12,643.85 H334.12 M321.12,688.12 H334.12" fill="none" stroke="#231f20" stroke-width="2.2"/>
<path d="M379.55,650.98 V666.77 M373.05,650.98 H386.05 M373.05,666.77 H386.05" fill="none" stroke="#231f20" stroke-width="2.2"/>
<path d="M431.47,643.05 V668.22 M424.97,643.05 H437.97 M424.97,668.22 H437.97" fill="none" stroke="#231f20" stroke-width="2.2"/>
<path d="M483.4,624.32 V660.1 M476.9,624.32 H489.9 M476.9,660.1 H489.9" fill="none" stroke="#231f20" stroke-width="2.2"/>
<path d="M535.33,528.81 V591.6 M528.83,528.81 H541.83 M528.83,591.6 H541.83" fill="none" stroke="#231f20" stroke-width="2.2"/>
<path d="M587.25,438.99 V466.54 M580.75,438.99 H593.75 M580.75,466.54 H593.75" fill="none" stroke="#231f20" stroke-width="2.2"/>
<path d="M639.17,381.4 V392.81 M632.67,381.4 H645.67 M632.67,392.81 H645.67" fill="none" stroke="#231f20" stroke-width="2.2"/>
<path d="M691.1,360.98 V378.61 M684.6,360.98 H697.6 M684.6,378.61 H697.6" fill="none" stroke="#231f20" stroke-width="2.2"/>
<path d="M743.02,356.92 V369.77 M736.52,356.92 H749.52 M736.52,369.77 H749.52" fill="none" stroke="#231f20" stroke-width="2.2"/>
<path d="M275.7,664.71 L280.89,664.69 L286.08,664.67 L291.28,664.65 L296.47,664.63 L301.66,664.6 L306.85,664.57 L312.05,664.53 L317.24,664.49 L322.43,664.44 L327.62,664.38 L332.82,664.31 L338.01,664.24 L343.2,664.15 L348.39,664.04 L353.59,663.92 L358.78,663.78 L363.97,663.61 L369.16,663.42 L374.36,663.2 L379.55,662.94 L384.74,662.65 L389.94,662.3 L395.13,661.9 L400.32,661.44 L405.51,660.9 L410.7,660.28 L415.9,659.57 L421.09,658.74 L426.28,657.78 L431.47,656.68 L436.67,655.41 L441.86,653.95 L447.05,652.27 L452.25,650.34 L457.44,648.13 L462.63,645.61 L467.82,642.74 L473.01,639.48 L478.21,635.78 L483.4,631.61 L488.59,626.93 L493.78,621.68 L498.98,615.85 L504.17,609.4 L509.36,602.3 L514.55,594.56 L519.75,586.17 L524.94,577.16 L530.13,567.56 L535.33,557.44 L540.52,546.88 L545.71,535.96 L550.9,524.8 L556.1,513.51 L561.29,502.23 L566.48,491.08 L571.67,480.17 L576.87,469.62 L582.06,459.52 L587.25,449.95 L592.44,440.96 L597.63,432.6 L602.83,424.88 L608.02,417.81 L613.21,411.38 L618.4,405.58 L623.6,400.36 L628.79,395.69 L633.98,391.54 L639.17,387.87 L644.37,384.62 L649.56,381.76 L654.75,379.26 L659.94,377.06 L665.14,375.15 L670.33,373.48 L675.52,372.02 L680.71,370.76 L685.91,369.67 L691.1,368.71 L696.29,367.89 L701.48,367.18 L706.68,366.56 L711.87,366.03 L717.06,365.57 L722.25,365.17 L727.45,364.83 L732.64,364.53 L737.83,364.28 L743.02,364.06 L748.22,363.87 L753.41,363.71 L758.6,363.56 L763.79,363.44 L768.99,363.34 L774.18,363.25 L779.37,363.17 L784.57,363.1 L789.76,363.05 L794.95,363" fill="none" stroke="#231f20" stroke-width="2.1" stroke-linejoin="round"/>
<polygon points="275.7,659.4 282,666.2 275.7,673 269.4,666.2" fill="#fff" stroke="#231f20" stroke-width="3.3" stroke-linejoin="miter" /><polygon points="275.7,659.4 282,666.2 269.4,666.2" fill="#231f20" stroke="#231f20" stroke-width="0" stroke-linejoin="miter" />
<polygon points="327.62,659.19 333.93,665.99 327.62,672.79 321.32,665.99" fill="#fff" stroke="#231f20" stroke-width="3.3" stroke-linejoin="miter" /><polygon points="327.62,659.19 333.93,665.99 321.32,665.99" fill="#231f20" stroke="#231f20" stroke-width="0" stroke-linejoin="miter" />
<polygon points="379.55,652.07 385.85,658.87 379.55,665.67 373.25,658.87" fill="#fff" stroke="#231f20" stroke-width="3.3" stroke-linejoin="miter" /><polygon points="379.55,652.07 385.85,658.87 373.25,658.87" fill="#231f20" stroke="#231f20" stroke-width="0" stroke-linejoin="miter" />
<polygon points="431.47,648.83 437.77,655.63 431.47,662.43 425.17,655.63" fill="#fff" stroke="#231f20" stroke-width="3.3" stroke-linejoin="miter" /><polygon points="431.47,648.83 437.77,655.63 425.17,655.63" fill="#231f20" stroke="#231f20" stroke-width="0" stroke-linejoin="miter" />
<polygon points="483.4,635.41 489.7,642.21 483.4,649.01 477.1,642.21" fill="#fff" stroke="#231f20" stroke-width="3.3" stroke-linejoin="miter" /><polygon points="483.4,635.41 489.7,642.21 477.1,642.21" fill="#231f20" stroke="#231f20" stroke-width="0" stroke-linejoin="miter" />
<polygon points="535.33,553.4 541.62,560.2 535.33,567 529.03,560.2" fill="#fff" stroke="#231f20" stroke-width="3.3" stroke-linejoin="miter" /><polygon points="535.33,553.4 541.62,560.2 529.03,560.2" fill="#231f20" stroke="#231f20" stroke-width="0" stroke-linejoin="miter" />
<polygon points="587.25,445.96 593.55,452.76 587.25,459.56 580.95,452.76" fill="#fff" stroke="#231f20" stroke-width="3.3" stroke-linejoin="miter" /><polygon points="587.25,445.96 593.55,452.76 580.95,452.76" fill="#231f20" stroke="#231f20" stroke-width="0" stroke-linejoin="miter" />
<polygon points="639.17,380.31 645.47,387.11 639.17,393.91 632.88,387.11" fill="#fff" stroke="#231f20" stroke-width="3.3" stroke-linejoin="miter" /><polygon points="639.17,380.31 645.47,387.11 632.88,387.11" fill="#231f20" stroke="#231f20" stroke-width="0" stroke-linejoin="miter" />
<polygon points="691.1,362.99 697.4,369.79 691.1,376.59 684.8,369.79" fill="#fff" stroke="#231f20" stroke-width="3.3" stroke-linejoin="miter" /><polygon points="691.1,362.99 697.4,369.79 684.8,369.79" fill="#231f20" stroke="#231f20" stroke-width="0" stroke-linejoin="miter" />
<polygon points="743.02,356.54 749.32,363.34 743.02,370.14 736.73,363.34" fill="#fff" stroke="#231f20" stroke-width="3.3" stroke-linejoin="miter" /><polygon points="743.02,356.54 749.32,363.34 736.73,363.34" fill="#231f20" stroke="#231f20" stroke-width="0" stroke-linejoin="miter" />
<polygon points="794.95,353.69 801.25,360.49 794.95,367.29 788.65,360.49" fill="#fff" stroke="#231f20" stroke-width="3.3" stroke-linejoin="miter" /><polygon points="794.95,353.69 801.25,360.49 788.65,360.49" fill="#231f20" stroke="#231f20" stroke-width="0" stroke-linejoin="miter" />
</g>
<g>
<path d="M275.7,649.81 V695.72 M269.2,649.81 H282.2 M269.2,695.72 H282.2" fill="none" stroke="#231f20" stroke-width="2.2"/>
<path d="M327.62,661.38 V680.37 M321.12,661.38 H334.12 M321.12,680.37 H334.12" fill="none" stroke="#231f20" stroke-width="2.2"/>
<path d="M379.55,662.1 V676.1 M373.05,662.1 H386.05 M373.05,676.1 H386.05" fill="none" stroke="#231f20" stroke-width="2.2"/>
<path d="M431.47,658.47 V686.91 M424.97,658.47 H437.97 M424.97,686.91 H437.97" fill="none" stroke="#231f20" stroke-width="2.2"/>
<path d="M483.4,649.59 V678.67 M476.9,649.59 H489.9 M476.9,678.67 H489.9" fill="none" stroke="#231f20" stroke-width="2.2"/>
<path d="M535.33,618.99 V643.03 M528.83,618.99 H541.83 M528.83,643.03 H541.83" fill="none" stroke="#231f20" stroke-width="2.2"/>
<path d="M587.25,555.04 V572.1 M580.75,555.04 H593.75 M580.75,572.1 H593.75" fill="none" stroke="#231f20" stroke-width="2.2"/>
<path d="M639.17,444.54 V475.86 M632.67,444.54 H645.67 M632.67,475.86 H645.67" fill="none" stroke="#231f20" stroke-width="2.2"/>
<path d="M691.1,376.66 V421.28 M684.6,376.66 H697.6 M684.6,421.28 H697.6" fill="none" stroke="#231f20" stroke-width="2.2"/>
<path d="M743.02,376.61 V393.32 M736.52,376.61 H749.52 M736.52,393.32 H749.52" fill="none" stroke="#231f20" stroke-width="2.2"/>
<path d="M275.7,674.19 L280.89,674.18 L286.08,674.18 L291.28,674.17 L296.47,674.16 L301.66,674.14 L306.85,674.13 L312.05,674.11 L317.24,674.09 L322.43,674.07 L327.62,674.05 L332.82,674.02 L338.01,673.98 L343.2,673.95 L348.39,673.9 L353.59,673.85 L358.78,673.79 L363.97,673.73 L369.16,673.65 L374.36,673.56 L379.55,673.46 L384.74,673.35 L389.94,673.22 L395.13,673.07 L400.32,672.9 L405.51,672.7 L410.7,672.47 L415.9,672.21 L421.09,671.91 L426.28,671.57 L431.47,671.18 L436.67,670.73 L441.86,670.21 L447.05,669.63 L452.25,668.96 L457.44,668.19 L462.63,667.31 L467.82,666.31 L473.01,665.18 L478.21,663.88 L483.4,662.41 L488.59,660.74 L493.78,658.84 L498.98,656.7 L504.17,654.27 L509.36,651.54 L514.55,648.48 L519.75,645.04 L524.94,641.2 L530.13,636.93 L535.33,632.2 L540.52,626.98 L545.71,621.24 L550.9,614.98 L556.1,608.18 L561.29,600.85 L566.48,592.99 L571.67,584.64 L576.87,575.83 L582.06,566.61 L587.25,557.05 L592.44,547.23 L597.63,537.22 L602.83,527.12 L608.02,517.03 L613.21,507.05 L618.4,497.26 L623.6,487.75 L628.79,478.59 L633.98,469.84 L639.17,461.57 L644.37,453.79 L649.56,446.54 L654.75,439.83 L659.94,433.65 L665.14,427.99 L670.33,422.85 L675.52,418.19 L680.71,413.99 L685.91,410.21 L691.1,406.84 L696.29,403.82 L701.48,401.14 L706.68,398.77 L711.87,396.66 L717.06,394.8 L722.25,393.16 L727.45,391.72 L732.64,390.45 L737.83,389.33 L743.02,388.35 L748.22,387.5 L753.41,386.75 L758.6,386.09 L763.79,385.51 L768.99,385.01 L774.18,384.57 L779.37,384.19 L784.57,383.85 L789.76,383.56 L794.95,383.3" fill="none" stroke="#231f20" stroke-width="2.1" stroke-linejoin="round"/>
<polygon points="275.7,665.96 282,672.76 275.7,679.56 269.4,672.76" fill="#fff" stroke="#231f20" stroke-width="3.3" stroke-linejoin="miter" /><polygon points="275.7,679.56 282,672.76 269.4,672.76" fill="#231f20" stroke="#231f20" stroke-width="0" stroke-linejoin="miter" />
<polygon points="327.62,664.08 333.93,670.88 327.62,677.68 321.32,670.88" fill="#fff" stroke="#231f20" stroke-width="3.3" stroke-linejoin="miter" /><polygon points="327.62,677.68 333.93,670.88 321.32,670.88" fill="#231f20" stroke="#231f20" stroke-width="0" stroke-linejoin="miter" />
<polygon points="379.55,662.3 385.85,669.1 379.55,675.9 373.25,669.1" fill="#fff" stroke="#231f20" stroke-width="3.3" stroke-linejoin="miter" /><polygon points="379.55,675.9 385.85,669.1 373.25,669.1" fill="#231f20" stroke="#231f20" stroke-width="0" stroke-linejoin="miter" />
<polygon points="431.47,665.89 437.77,672.69 431.47,679.49 425.17,672.69" fill="#fff" stroke="#231f20" stroke-width="3.3" stroke-linejoin="miter" /><polygon points="431.47,679.49 437.77,672.69 425.17,672.69" fill="#231f20" stroke="#231f20" stroke-width="0" stroke-linejoin="miter" />
<polygon points="483.4,657.33 489.7,664.13 483.4,670.93 477.1,664.13" fill="#fff" stroke="#231f20" stroke-width="3.3" stroke-linejoin="miter" /><polygon points="483.4,670.93 489.7,664.13 477.1,664.13" fill="#231f20" stroke="#231f20" stroke-width="0" stroke-linejoin="miter" />
<polygon points="535.33,624.21 541.62,631.01 535.33,637.81 529.03,631.01" fill="#fff" stroke="#231f20" stroke-width="3.3" stroke-linejoin="miter" /><polygon points="535.33,637.81 541.62,631.01 529.03,631.01" fill="#231f20" stroke="#231f20" stroke-width="0" stroke-linejoin="miter" />
<polygon points="587.25,556.77 593.55,563.57 587.25,570.37 580.95,563.57" fill="#fff" stroke="#231f20" stroke-width="3.3" stroke-linejoin="miter" /><polygon points="587.25,570.37 593.55,563.57 580.95,563.57" fill="#231f20" stroke="#231f20" stroke-width="0" stroke-linejoin="miter" />
<polygon points="639.17,453.4 645.47,460.2 639.17,467 632.88,460.2" fill="#fff" stroke="#231f20" stroke-width="3.3" stroke-linejoin="miter" /><polygon points="639.17,467 645.47,460.2 632.88,460.2" fill="#231f20" stroke="#231f20" stroke-width="0" stroke-linejoin="miter" />
<polygon points="691.1,392.17 697.4,398.97 691.1,405.77 684.8,398.97" fill="#fff" stroke="#231f20" stroke-width="3.3" stroke-linejoin="miter" /><polygon points="691.1,405.77 697.4,398.97 684.8,398.97" fill="#231f20" stroke="#231f20" stroke-width="0" stroke-linejoin="miter" />
<polygon points="743.02,378.17 749.32,384.97 743.02,391.77 736.73,384.97" fill="#fff" stroke="#231f20" stroke-width="3.3" stroke-linejoin="miter" /><polygon points="743.02,391.77 749.32,384.97 736.73,384.97" fill="#231f20" stroke="#231f20" stroke-width="0" stroke-linejoin="miter" />
<polygon points="794.95,376.51 801.25,383.31 794.95,390.11 788.65,383.31" fill="#fff" stroke="#231f20" stroke-width="3.3" stroke-linejoin="miter" /><polygon points="794.95,390.11 801.25,383.31 788.65,383.31" fill="#231f20" stroke="#231f20" stroke-width="0" stroke-linejoin="miter" />
</g>
<g>
<path d="M275.7,664.7 V692.73 M269.2,664.7 H282.2 M269.2,692.73 H282.2" fill="none" stroke="#231f20" stroke-width="2.2"/>
<path d="M379.55,664.58 V683.21 M373.05,664.58 H386.05 M373.05,683.21 H386.05" fill="none" stroke="#231f20" stroke-width="2.2"/>
<path d="M431.47,672.01 V679.5 M424.97,672.01 H437.97 M424.97,679.5 H437.97" fill="none" stroke="#231f20" stroke-width="2.2"/>
<path d="M483.4,635.7 V670.22 M476.9,635.7 H489.9 M476.9,670.22 H489.9" fill="none" stroke="#231f20" stroke-width="2.2"/>
<path d="M535.33,615.22 V623.46 M528.83,615.22 H541.83 M528.83,623.46 H541.83" fill="none" stroke="#231f20" stroke-width="2.2"/>
<path d="M587.25,529.01 V560.23 M580.75,529.01 H593.75 M580.75,560.23 H593.75" fill="none" stroke="#231f20" stroke-width="2.2"/>
<path d="M639.17,432.22 V487.38 M632.67,432.22 H645.67 M632.67,487.38 H645.67" fill="none" stroke="#231f20" stroke-width="2.2"/>
<path d="M691.1,387.11 V417.69 M684.6,387.11 H697.6 M684.6,417.69 H697.6" fill="none" stroke="#231f20" stroke-width="2.2"/>
<path d="M794.95,388.47 V396.62 M788.45,388.47 H801.45 M788.45,396.62 H801.45" fill="none" stroke="#231f20" stroke-width="2.2"/>
<path d="M275.7,677.1 L280.89,677.06 L286.08,677.02 L291.28,676.98 L296.47,676.93 L301.66,676.87 L306.85,676.81 L312.05,676.74 L317.24,676.66 L322.43,676.57 L327.62,676.48 L332.82,676.36 L338.01,676.24 L343.2,676.1 L348.39,675.94 L353.59,675.77 L358.78,675.57 L363.97,675.35 L369.16,675.11 L374.36,674.83 L379.55,674.52 L384.74,674.18 L389.94,673.79 L395.13,673.36 L400.32,672.87 L405.51,672.33 L410.7,671.72 L415.9,671.05 L421.09,670.29 L426.28,669.45 L431.47,668.51 L436.67,667.47 L441.86,666.3 L447.05,665.01 L452.25,663.57 L457.44,661.97 L462.63,660.2 L467.82,658.25 L473.01,656.08 L478.21,653.7 L483.4,651.07 L488.59,648.18 L493.78,645.01 L498.98,641.55 L504.17,637.78 L509.36,633.68 L514.55,629.23 L519.75,624.43 L524.94,619.26 L530.13,613.73 L535.33,607.83 L540.52,601.56 L545.71,594.95 L550.9,587.99 L556.1,580.73 L561.29,573.18 L566.48,565.38 L571.67,557.38 L576.87,549.22 L582.06,540.95 L587.25,532.63 L592.44,524.3 L597.63,516.03 L602.83,507.87 L608.02,499.87 L613.21,492.07 L618.4,484.52 L623.6,477.26 L628.79,470.31 L633.98,463.69 L639.17,457.42 L644.37,451.52 L649.56,445.99 L654.75,440.82 L659.94,436.02 L665.14,431.58 L670.33,427.47 L675.52,423.7 L680.71,420.24 L685.91,417.07 L691.1,414.18 L696.29,411.56 L701.48,409.17 L706.68,407.01 L711.87,405.05 L717.06,403.28 L722.25,401.68 L727.45,400.24 L732.64,398.95 L737.83,397.78 L743.02,396.74 L748.22,395.8 L753.41,394.96 L758.6,394.2 L763.79,393.53 L768.99,392.92 L774.18,392.38 L779.37,391.9 L784.57,391.46 L789.76,391.08 L794.95,390.73" fill="none" stroke="#231f20" stroke-width="2.1" stroke-linejoin="round"/>
<polygon points="282.3,678.72 279,684.43 272.4,684.43 269.1,678.72 272.4,673 279,673" fill="#fff" stroke="#231f20" stroke-width="3.3" stroke-linejoin="miter" /><polygon points="275.7,673 272.4,673 269.1,678.72 272.4,684.43 275.7,684.43" fill="#231f20" stroke="#231f20" stroke-width="0" stroke-linejoin="miter" />
<polygon points="334.23,677.4 330.93,683.12 324.32,683.12 321.02,677.4 324.32,671.69 330.93,671.69" fill="#fff" stroke="#231f20" stroke-width="3.3" stroke-linejoin="miter" /><polygon points="327.62,671.69 324.32,671.69 321.02,677.4 324.32,683.12 327.62,683.12" fill="#231f20" stroke="#231f20" stroke-width="0" stroke-linejoin="miter" />
<polygon points="386.15,673.89 382.85,679.61 376.25,679.61 372.95,673.89 376.25,668.18 382.85,668.18" fill="#fff" stroke="#231f20" stroke-width="3.3" stroke-linejoin="miter" /><polygon points="379.55,668.18 376.25,668.18 372.95,673.89 376.25,679.61 379.55,679.61" fill="#231f20" stroke="#231f20" stroke-width="0" stroke-linejoin="miter" />
<polygon points="438.07,675.75 434.77,681.47 428.17,681.47 424.87,675.75 428.17,670.04 434.77,670.04" fill="#fff" stroke="#231f20" stroke-width="3.3" stroke-linejoin="miter" /><polygon points="431.47,670.04 428.17,670.04 424.87,675.75 428.17,681.47 431.47,681.47" fill="#231f20" stroke="#231f20" stroke-width="0" stroke-linejoin="miter" />
<polygon points="490,652.96 486.7,658.68 480.1,658.68 476.8,652.96 480.1,647.25 486.7,647.25" fill="#fff" stroke="#231f20" stroke-width="3.3" stroke-linejoin="miter" /><polygon points="483.4,647.25 480.1,647.25 476.8,652.96 480.1,658.68 483.4,658.68" fill="#231f20" stroke="#231f20" stroke-width="0" stroke-linejoin="miter" />
<polygon points="541.93,619.34 538.62,625.05 532.03,625.05 528.73,619.34 532.03,613.62 538.62,613.62" fill="#fff" stroke="#231f20" stroke-width="3.3" stroke-linejoin="miter" /><polygon points="535.33,613.62 532.03,613.62 528.73,619.34 532.03,625.05 535.33,625.05" fill="#231f20" stroke="#231f20" stroke-width="0" stroke-linejoin="miter" />
<polygon points="593.85,544.62 590.55,550.34 583.95,550.34 580.65,544.62 583.95,538.9 590.55,538.9" fill="#fff" stroke="#231f20" stroke-width="3.3" stroke-linejoin="miter" /><polygon points="587.25,538.9 583.95,538.9 580.65,544.62 583.95,550.34 587.25,550.34" fill="#231f20" stroke="#231f20" stroke-width="0" stroke-linejoin="miter" />
<polygon points="645.77,459.8 642.47,465.52 635.88,465.52 632.57,459.8 635.88,454.09 642.47,454.09" fill="#fff" stroke="#231f20" stroke-width="3.3" stroke-linejoin="miter" /><polygon points="639.17,454.09 635.88,454.09 632.57,459.8 635.88,465.52 639.17,465.52" fill="#231f20" stroke="#231f20" stroke-width="0" stroke-linejoin="miter" />
<polygon points="697.7,402.4 694.4,408.12 687.8,408.12 684.5,402.4 687.8,396.68 694.4,396.68" fill="#fff" stroke="#231f20" stroke-width="3.3" stroke-linejoin="miter" /><polygon points="691.1,396.68 687.8,396.68 684.5,402.4 687.8,408.12 691.1,408.12" fill="#231f20" stroke="#231f20" stroke-width="0" stroke-linejoin="miter" />
<polygon points="749.62,394.53 746.32,400.24 739.73,400.24 736.42,394.53 739.73,388.81 746.32,388.81" fill="#fff" stroke="#231f20" stroke-width="3.3" stroke-linejoin="miter" /><polygon points="743.02,388.81 739.73,388.81 736.42,394.53 739.73,400.24 743.02,400.24" fill="#231f20" stroke="#231f20" stroke-width="0" stroke-linejoin="miter" />
<polygon points="801.55,392.55 798.25,398.26 791.65,398.26 788.35,392.55 791.65,386.83 798.25,386.83" fill="#fff" stroke="#231f20" stroke-width="3.3" stroke-linejoin="miter" /><polygon points="794.95,386.83 791.65,386.83 788.35,392.55 791.65,398.26 794.95,398.26" fill="#231f20" stroke="#231f20" stroke-width="0" stroke-linejoin="miter" />
</g>
<g>
<path d="M275.7,707.27 V738.74 M269.2,707.27 H282.2 M269.2,738.74 H282.2" fill="none" stroke="#231f20" stroke-width="2.2"/>
<path d="M327.62,710.37 V754.43 M321.12,710.37 H334.12 M321.12,754.43 H334.12" fill="none" stroke="#231f20" stroke-width="2.2"/>
<path d="M379.55,711.65 V755.71 M373.05,711.65 H386.05 M373.05,755.71 H386.05" fill="none" stroke="#231f20" stroke-width="2.2"/>
<path d="M431.47,687.99 V750.93 M424.97,687.99 H437.97 M424.97,750.93 H437.97" fill="none" stroke="#231f20" stroke-width="2.2"/>
<path d="M483.4,675.93 V732.57 M476.9,675.93 H489.9 M476.9,732.57 H489.9" fill="none" stroke="#231f20" stroke-width="2.2"/>
<path d="M535.33,645.04 V677.92 M528.83,645.04 H541.83 M528.83,677.92 H541.83" fill="none" stroke="#231f20" stroke-width="2.2"/>
<path d="M587.25,520.08 V563.27 M580.75,520.08 H593.75 M580.75,563.27 H593.75" fill="none" stroke="#231f20" stroke-width="2.2"/>
<path d="M639.17,410.21 V445.54 M632.67,410.21 H645.67 M632.67,445.54 H645.67" fill="none" stroke="#231f20" stroke-width="2.2"/>
<path d="M691.1,372.54 V387.31 M684.6,372.54 H697.6 M684.6,387.31 H697.6" fill="none" stroke="#231f20" stroke-width="2.2"/>
<path d="M743.02,361.34 V372.08 M736.52,361.34 H749.52 M736.52,372.08 H749.52" fill="none" stroke="#231f20" stroke-width="2.2"/>
<path d="M794.95,362.65 V376.12 M788.45,362.65 H801.45 M788.45,376.12 H801.45" fill="none" stroke="#231f20" stroke-width="2.2"/>
<path d="M275.7,724.58 L280.89,724.58 L286.08,724.58 L291.28,724.57 L296.47,724.57 L301.66,724.57 L306.85,724.56 L312.05,724.56 L317.24,724.55 L322.43,724.54 L327.62,724.53 L332.82,724.52 L338.01,724.5 L343.2,724.49 L348.39,724.47 L353.59,724.44 L358.78,724.41 L363.97,724.38 L369.16,724.34 L374.36,724.29 L379.55,724.24 L384.74,724.17 L389.94,724.09 L395.13,724 L400.32,723.88 L405.51,723.75 L410.7,723.59 L415.9,723.41 L421.09,723.18 L426.28,722.92 L431.47,722.6 L436.67,722.23 L441.86,721.79 L447.05,721.27 L452.25,720.65 L457.44,719.91 L462.63,719.04 L467.82,718.02 L473.01,716.81 L478.21,715.38 L483.4,713.69 L488.59,711.71 L493.78,709.39 L498.98,706.67 L504.17,703.49 L509.36,699.79 L514.55,695.49 L519.75,690.53 L524.94,684.83 L530.13,678.31 L535.33,670.9 L540.52,662.55 L545.71,653.2 L550.9,642.84 L556.1,631.46 L561.29,619.11 L566.48,605.87 L571.67,591.84 L576.87,577.19 L582.06,562.1 L587.25,546.79 L592.44,531.47 L597.63,516.38 L602.83,501.73 L608.02,487.71 L613.21,474.46 L618.4,462.11 L623.6,450.74 L628.79,440.37 L633.98,431.03 L639.17,422.67 L644.37,415.26 L649.56,408.74 L654.75,403.04 L659.94,398.08 L665.14,393.79 L670.33,390.09 L675.52,386.91 L680.71,384.19 L685.91,381.86 L691.1,379.88 L696.29,378.2 L701.48,376.77 L706.68,375.56 L711.87,374.53 L717.06,373.66 L722.25,372.93 L727.45,372.31 L732.64,371.78 L737.83,371.34 L743.02,370.97 L748.22,370.66 L753.41,370.39 L758.6,370.17 L763.79,369.98 L768.99,369.82 L774.18,369.69 L779.37,369.58 L784.57,369.48 L789.76,369.4 L794.95,369.34" fill="none" stroke="#231f20" stroke-width="2.1" stroke-linejoin="round"/>
<polygon points="282.3,723.01 279,728.72 272.4,728.72 269.1,723.01 272.4,717.29 279,717.29" fill="#fff" stroke="#231f20" stroke-width="3.3" stroke-linejoin="miter" /><polygon points="275.7,717.29 279,717.29 282.3,723.01 279,728.72 275.7,728.72" fill="#231f20" stroke="#231f20" stroke-width="0" stroke-linejoin="miter" />
<polygon points="334.23,732.4 330.93,738.11 324.32,738.11 321.02,732.4 324.32,726.68 330.93,726.68" fill="#fff" stroke="#231f20" stroke-width="3.3" stroke-linejoin="miter" /><polygon points="327.62,726.68 330.93,726.68 334.23,732.4 330.93,738.11 327.62,738.11" fill="#231f20" stroke="#231f20" stroke-width="0" stroke-linejoin="miter" />
<polygon points="386.15,733.68 382.85,739.39 376.25,739.39 372.95,733.68 376.25,727.96 382.85,727.96" fill="#fff" stroke="#231f20" stroke-width="3.3" stroke-linejoin="miter" /><polygon points="379.55,727.96 382.85,727.96 386.15,733.68 382.85,739.39 379.55,739.39" fill="#231f20" stroke="#231f20" stroke-width="0" stroke-linejoin="miter" />
<polygon points="438.07,719.46 434.77,725.17 428.17,725.17 424.87,719.46 428.17,713.74 434.77,713.74" fill="#fff" stroke="#231f20" stroke-width="3.3" stroke-linejoin="miter" /><polygon points="431.47,713.74 434.77,713.74 438.07,719.46 434.77,725.17 431.47,725.17" fill="#231f20" stroke="#231f20" stroke-width="0" stroke-linejoin="miter" />
<polygon points="490,704.25 486.7,709.97 480.1,709.97 476.8,704.25 480.1,698.54 486.7,698.54" fill="#fff" stroke="#231f20" stroke-width="3.3" stroke-linejoin="miter" /><polygon points="483.4,698.54 486.7,698.54 490,704.25 486.7,709.97 483.4,709.97" fill="#231f20" stroke="#231f20" stroke-width="0" stroke-linejoin="miter" />
<polygon points="541.93,661.48 538.62,667.2 532.03,667.2 528.73,661.48 532.03,655.76 538.62,655.76" fill="#fff" stroke="#231f20" stroke-width="3.3" stroke-linejoin="miter" /><polygon points="535.33,655.76 538.62,655.76 541.93,661.48 538.62,667.2 535.33,667.2" fill="#231f20" stroke="#231f20" stroke-width="0" stroke-linejoin="miter" />
<polygon points="593.85,541.68 590.55,547.39 583.95,547.39 580.65,541.68 583.95,535.96 590.55,535.96" fill="#fff" stroke="#231f20" stroke-width="3.3" stroke-linejoin="miter" /><polygon points="587.25,535.96 590.55,535.96 593.85,541.68 590.55,547.39 587.25,547.39" fill="#231f20" stroke="#231f20" stroke-width="0" stroke-linejoin="miter" />
<polygon points="645.77,427.87 642.47,433.59 635.88,433.59 632.57,427.87 635.88,422.16 642.47,422.16" fill="#fff" stroke="#231f20" stroke-width="3.3" stroke-linejoin="miter" /><polygon points="639.17,422.16 642.47,422.16 645.77,427.87 642.47,433.59 639.17,433.59" fill="#231f20" stroke="#231f20" stroke-width="0" stroke-linejoin="miter" />
<polygon points="697.7,379.93 694.4,385.64 687.8,385.64 684.5,379.93 687.8,374.21 694.4,374.21" fill="#fff" stroke="#231f20" stroke-width="3.3" stroke-linejoin="miter" /><polygon points="691.1,374.21 694.4,374.21 697.7,379.93 694.4,385.64 691.1,385.64" fill="#231f20" stroke="#231f20" stroke-width="0" stroke-linejoin="miter" />
<polygon points="749.62,366.71 746.32,372.42 739.73,372.42 736.42,366.71 739.73,360.99 746.32,360.99" fill="#fff" stroke="#231f20" stroke-width="3.3" stroke-linejoin="miter" /><polygon points="743.02,360.99 746.32,360.99 749.62,366.71 746.32,372.42 743.02,372.42" fill="#231f20" stroke="#231f20" stroke-width="0" stroke-linejoin="miter" />
<polygon points="801.55,369.38 798.25,375.1 791.65,375.1 788.35,369.38 791.65,363.67 798.25,363.67" fill="#fff" stroke="#231f20" stroke-width="3.3" stroke-linejoin="miter" /><polygon points="794.95,363.67 798.25,363.67 801.55,369.38 798.25,375.1 794.95,375.1" fill="#231f20" stroke="#231f20" stroke-width="0" stroke-linejoin="miter" />
</g>
<g>
<path d="M275.7,657.83 V683.25 M269.2,657.83 H282.2 M269.2,683.25 H282.2" fill="none" stroke="#231f20" stroke-width="2.2"/>
<path d="M327.62,653.78 V677.49 M321.12,653.78 H334.12 M321.12,677.49 H334.12" fill="none" stroke="#231f20" stroke-width="2.2"/>
<path d="M379.55,657.28 V685.89 M373.05,657.28 H386.05 M373.05,685.89 H386.05" fill="none" stroke="#231f20" stroke-width="2.2"/>
<path d="M483.4,618.17 V644.3 M476.9,618.17 H489.9 M476.9,644.3 H489.9" fill="none" stroke="#231f20" stroke-width="2.2"/>
<path d="M535.33,572.12 V635.77 M528.83,572.12 H541.83 M528.83,635.77 H541.83" fill="none" stroke="#231f20" stroke-width="2.2"/>
<path d="M587.25,490.33 V497.91 M580.75,490.33 H593.75 M580.75,497.91 H593.75" fill="none" stroke="#231f20" stroke-width="2.2"/>
<path d="M639.17,416.63 V445.83 M632.67,416.63 H645.67 M632.67,445.83 H645.67" fill="none" stroke="#231f20" stroke-width="2.2"/>
<path d="M794.95,365.71 V379.9 M788.45,365.71 H801.45 M788.45,379.9 H801.45" fill="none" stroke="#231f20" stroke-width="2.2"/>
<path d="M275.7,671 L280.89,670.98 L286.08,670.96 L291.28,670.95 L296.47,670.92 L301.66,670.9 L306.85,670.87 L312.05,670.84 L317.24,670.8 L322.43,670.75 L327.62,670.7 L332.82,670.65 L338.01,670.58 L343.2,670.5 L348.39,670.42 L353.59,670.32 L358.78,670.2 L363.97,670.07 L369.16,669.92 L374.36,669.75 L379.55,669.55 L384.74,669.32 L389.94,669.06 L395.13,668.76 L400.32,668.41 L405.51,668.02 L410.7,667.57 L415.9,667.06 L421.09,666.47 L426.28,665.8 L431.47,665.03 L436.67,664.15 L441.86,663.15 L447.05,662.01 L452.25,660.71 L457.44,659.23 L462.63,657.55 L467.82,655.65 L473.01,653.49 L478.21,651.06 L483.4,648.32 L488.59,645.23 L493.78,641.78 L498.98,637.92 L504.17,633.62 L509.36,628.85 L514.55,623.59 L519.75,617.8 L524.94,611.48 L530.13,604.61 L535.33,597.2 L540.52,589.25 L545.71,580.79 L550.9,571.85 L556.1,562.49 L561.29,552.76 L566.48,542.76 L571.67,532.56 L576.87,522.25 L582.06,511.94 L587.25,501.72 L592.44,491.68 L597.63,481.92 L602.83,472.51 L608.02,463.52 L613.21,454.99 L618.4,446.98 L623.6,439.5 L628.79,432.56 L633.98,426.17 L639.17,420.32 L644.37,415 L649.56,410.17 L654.75,405.81 L659.94,401.9 L665.14,398.39 L670.33,395.27 L675.52,392.49 L680.71,390.02 L685.91,387.83 L691.1,385.9 L696.29,384.19 L701.48,382.69 L706.68,381.37 L711.87,380.21 L717.06,379.19 L722.25,378.3 L727.45,377.52 L732.64,376.83 L737.83,376.23 L743.02,375.71 L748.22,375.25 L753.41,374.85 L758.6,374.51 L763.79,374.2 L768.99,373.93 L774.18,373.7 L779.37,373.5 L784.57,373.32 L789.76,373.17 L794.95,373.04" fill="none" stroke="#231f20" stroke-width="2.1" stroke-linejoin="round"/>
<circle cx="275.7" cy="670.54" r="7.5" fill="#231f20"/>
<circle cx="327.62" cy="665.64" r="7.5" fill="#231f20"/>
<circle cx="379.55" cy="671.59" r="7.5" fill="#231f20"/>
<circle cx="431.47" cy="665.48" r="7.5" fill="#231f20"/>
<circle cx="483.4" cy="631.24" r="7.5" fill="#231f20"/>
<circle cx="535.33" cy="603.94" r="7.5" fill="#231f20"/>
<circle cx="587.25" cy="494.12" r="7.5" fill="#231f20"/>
<circle cx="639.17" cy="431.23" r="7.5" fill="#231f20"/>
<circle cx="691.1" cy="388.12" r="7.5" fill="#231f20"/>
<circle cx="743.02" cy="378.71" r="7.5" fill="#231f20"/>
<circle cx="794.95" cy="372.8" r="7.5" fill="#231f20"/>
</g>
<g>
<path d="M275.7,637.9 V657.26 M269.2,637.9 H282.2 M269.2,657.26 H282.2" fill="none" stroke="#231f20" stroke-width="2.2"/>
<path d="M379.55,632.17 V673.16 M373.05,632.17 H386.05 M373.05,673.16 H386.05" fill="none" stroke="#231f20" stroke-width="2.2"/>
<path d="M431.47,645.98 V666.02 M424.97,645.98 H437.97 M424.97,666.02 H437.97" fill="none" stroke="#231f20" stroke-width="2.2"/>
<path d="M483.4,599.27 V640.12 M476.9,599.27 H489.9 M476.9,640.12 H489.9" fill="none" stroke="#231f20" stroke-width="2.2"/>
<path d="M535.33,565.35 V596.39 M528.83,565.35 H541.83 M528.83,596.39 H541.83" fill="none" stroke="#231f20" stroke-width="2.2"/>
<path d="M587.25,463.91 V495.6 M580.75,463.91 H593.75 M580.75,495.6 H593.75" fill="none" stroke="#231f20" stroke-width="2.2"/>
<path d="M639.17,399.36 V425.52 M632.67,399.36 H645.67 M632.67,425.52 H645.67" fill="none" stroke="#231f20" stroke-width="2.2"/>
<path d="M691.1,365.75 V384.13 M684.6,365.75 H697.6 M684.6,384.13 H697.6" fill="none" stroke="#231f20" stroke-width="2.2"/>
<path d="M743.02,357.53 V370.07 M736.52,357.53 H749.52 M736.52,370.07 H749.52" fill="none" stroke="#231f20" stroke-width="2.2"/>
<path d="M794.95,347.33 V367.45 M788.45,347.33 H801.45 M788.45,367.45 H801.45" fill="none" stroke="#231f20" stroke-width="2.2"/>
<path d="M275.7,655.14 L280.89,655.11 L286.08,655.08 L291.28,655.04 L296.47,655 L301.66,654.95 L306.85,654.89 L312.05,654.83 L317.24,654.76 L322.43,654.67 L327.62,654.58 L332.82,654.48 L338.01,654.36 L343.2,654.22 L348.39,654.07 L353.59,653.9 L358.78,653.7 L363.97,653.48 L369.16,653.23 L374.36,652.94 L379.55,652.62 L384.74,652.26 L389.94,651.84 L395.13,651.37 L400.32,650.84 L405.51,650.24 L410.7,649.57 L415.9,648.8 L421.09,647.94 L426.28,646.97 L431.47,645.87 L436.67,644.63 L441.86,643.25 L447.05,641.69 L452.25,639.94 L457.44,637.98 L462.63,635.78 L467.82,633.34 L473.01,630.61 L478.21,627.59 L483.4,624.23 L488.59,620.52 L493.78,616.44 L498.98,611.96 L504.17,607.05 L509.36,601.72 L514.55,595.93 L519.75,589.69 L524.94,582.99 L530.13,575.84 L535.33,568.27 L540.52,560.29 L545.71,551.94 L550.9,543.27 L556.1,534.33 L561.29,525.18 L566.48,515.89 L571.67,506.53 L576.87,497.18 L582.06,487.92 L587.25,478.8 L592.44,469.91 L597.63,461.3 L602.83,453.02 L608.02,445.11 L613.21,437.62 L618.4,430.56 L623.6,423.95 L628.79,417.8 L633.98,412.1 L639.17,406.85 L644.37,402.03 L649.56,397.63 L654.75,393.62 L659.94,389.98 L665.14,386.69 L670.33,383.73 L675.52,381.06 L680.71,378.67 L685.91,376.52 L691.1,374.6 L696.29,372.89 L701.48,371.37 L706.68,370.01 L711.87,368.81 L717.06,367.73 L722.25,366.78 L727.45,365.94 L732.64,365.19 L737.83,364.53 L743.02,363.95 L748.22,363.43 L753.41,362.97 L758.6,362.57 L763.79,362.21 L768.99,361.9 L774.18,361.62 L779.37,361.37 L784.57,361.16 L789.76,360.97 L794.95,360.8" fill="none" stroke="#231f20" stroke-width="2.1" stroke-linejoin="round"/>
<rect x="268.55" y="640.43" width="14.3" height="14.3" fill="#231f20"/>
<rect x="320.48" y="645.52" width="14.3" height="14.3" fill="#231f20"/>
<rect x="372.4" y="645.52" width="14.3" height="14.3" fill="#231f20"/>
<rect x="424.32" y="648.85" width="14.3" height="14.3" fill="#231f20"/>
<rect x="476.25" y="612.54" width="14.3" height="14.3" fill="#231f20"/>
<rect x="528.18" y="573.72" width="14.3" height="14.3" fill="#231f20"/>
<rect x="580.1" y="472.61" width="14.3" height="14.3" fill="#231f20"/>
<rect x="632.02" y="405.29" width="14.3" height="14.3" fill="#231f20"/>
<rect x="683.95" y="367.79" width="14.3" height="14.3" fill="#231f20"/>
<rect x="735.88" y="356.65" width="14.3" height="14.3" fill="#231f20"/>
<rect x="787.8" y="350.24" width="14.3" height="14.3" fill="#231f20"/>
</g>
<g>
<path d="M327.62,653.94 V676.03 M321.12,653.94 H334.12 M321.12,676.03 H334.12" fill="none" stroke="#231f20" stroke-width="2.2"/>
<path d="M379.55,647.35 V674.32 M373.05,647.35 H386.05 M373.05,674.32 H386.05" fill="none" stroke="#231f20" stroke-width="2.2"/>
<path d="M431.47,653.77 V671.22 M424.97,653.77 H437.97 M424.97,671.22 H437.97" fill="none" stroke="#231f20" stroke-width="2.2"/>
<path d="M483.4,631.27 V662.92 M476.9,631.27 H489.9 M476.9,662.92 H489.9" fill="none" stroke="#231f20" stroke-width="2.2"/>
<path d="M535.33,581.5 V608.52 M528.83,581.5 H541.83 M528.83,608.52 H541.83" fill="none" stroke="#231f20" stroke-width="2.2"/>
<path d="M587.25,519.24 V555.7 M580.75,519.24 H593.75 M580.75,555.7 H593.75" fill="none" stroke="#231f20" stroke-width="2.2"/>
<path d="M639.17,454.6 V472.07 M632.67,454.6 H645.67 M632.67,472.07 H645.67" fill="none" stroke="#231f20" stroke-width="2.2"/>
<path d="M691.1,457.56 V473.3 M684.6,457.56 H697.6 M684.6,473.3 H697.6" fill="none" stroke="#231f20" stroke-width="2.2"/>
<path d="M743.02,453.56 V472.44 M736.52,453.56 H749.52 M736.52,472.44 H749.52" fill="none" stroke="#231f20" stroke-width="2.2"/>
<path d="M794.95,460.51 V466.81 M788.45,460.51 H801.45 M788.45,466.81 H801.45" fill="none" stroke="#231f20" stroke-width="2.2"/>
<path d="M275.7,664.75 L280.89,664.74 L286.08,664.73 L291.28,664.72 L296.47,664.71 L301.66,664.69 L306.85,664.68 L312.05,664.66 L317.24,664.63 L322.43,664.61 L327.62,664.58 L332.82,664.54 L338.01,664.5 L343.2,664.45 L348.39,664.39 L353.59,664.33 L358.78,664.25 L363.97,664.16 L369.16,664.06 L374.36,663.94 L379.55,663.8 L384.74,663.64 L389.94,663.45 L395.13,663.24 L400.32,662.99 L405.51,662.7 L410.7,662.36 L415.9,661.97 L421.09,661.52 L426.28,661 L431.47,660.4 L436.67,659.71 L441.86,658.91 L447.05,657.99 L452.25,656.94 L457.44,655.72 L462.63,654.33 L467.82,652.74 L473.01,650.92 L478.21,648.86 L483.4,646.51 L488.59,643.86 L493.78,640.87 L498.98,637.52 L504.17,633.78 L509.36,629.62 L514.55,625.04 L519.75,620.01 L524.94,614.55 L530.13,608.64 L535.33,602.32 L540.52,595.62 L545.71,588.58 L550.9,581.26 L556.1,573.74 L561.29,566.08 L566.48,558.37 L571.67,550.7 L576.87,543.15 L582.06,535.8 L587.25,528.72 L592.44,521.97 L597.63,515.6 L602.83,509.65 L608.02,504.12 L613.21,499.04 L618.4,494.4 L623.6,490.2 L628.79,486.4 L633.98,483 L639.17,479.97 L644.37,477.28 L649.56,474.89 L654.75,472.79 L659.94,470.95 L665.14,469.33 L670.33,467.91 L675.52,466.68 L680.71,465.6 L685.91,464.67 L691.1,463.86 L696.29,463.15 L701.48,462.54 L706.68,462.01 L711.87,461.55 L717.06,461.16 L722.25,460.82 L727.45,460.52 L732.64,460.27 L737.83,460.05 L743.02,459.86 L748.22,459.69 L753.41,459.55 L758.6,459.43 L763.79,459.32 L768.99,459.23 L774.18,459.16 L779.37,459.09 L784.57,459.03 L789.76,458.98 L794.95,458.94" fill="none" stroke="#231f20" stroke-width="2.1" stroke-linejoin="round"/>
<polygon points="275.7,646.51 282.95,660.61 268.45,660.61" fill="#231f20" stroke="#231f20" stroke-width="0" stroke-linejoin="miter" />
<polygon points="327.62,657.93 334.88,672.03 320.38,672.03" fill="#231f20" stroke="#231f20" stroke-width="0" stroke-linejoin="miter" />
<polygon points="379.55,653.78 386.8,667.88 372.3,667.88" fill="#231f20" stroke="#231f20" stroke-width="0" stroke-linejoin="miter" />
<polygon points="431.47,655.44 438.72,669.54 424.22,669.54" fill="#231f20" stroke="#231f20" stroke-width="0" stroke-linejoin="miter" />
<polygon points="483.4,640.05 490.65,654.15 476.15,654.15" fill="#231f20" stroke="#231f20" stroke-width="0" stroke-linejoin="miter" />
<polygon points="535.33,587.96 542.58,602.06 528.08,602.06" fill="#231f20" stroke="#231f20" stroke-width="0" stroke-linejoin="miter" />
<polygon points="587.25,530.42 594.5,544.52 580,544.52" fill="#231f20" stroke="#231f20" stroke-width="0" stroke-linejoin="miter" />
<polygon points="639.17,456.29 646.42,470.39 631.92,470.39" fill="#231f20" stroke="#231f20" stroke-width="0" stroke-linejoin="miter" />
<polygon points="691.1,458.38 698.35,472.48 683.85,472.48" fill="#231f20" stroke="#231f20" stroke-width="0" stroke-linejoin="miter" />
<polygon points="743.02,455.95 750.27,470.05 735.77,470.05" fill="#231f20" stroke="#231f20" stroke-width="0" stroke-linejoin="miter" />
<polygon points="794.95,456.61 802.2,470.71 787.7,470.71" fill="#231f20" stroke="#231f20" stroke-width="0" stroke-linejoin="miter" />
</g>
<g>
<path d="M275.7,647.84 V686.91 M269.2,647.84 H282.2 M269.2,686.91 H282.2" fill="none" stroke="#231f20" stroke-width="2.2"/>
<path d="M327.62,649.25 V687.14 M321.12,649.25 H334.12 M321.12,687.14 H334.12" fill="none" stroke="#231f20" stroke-width="2.2"/>
<path d="M379.55,668.9 V678.12 M373.05,668.9 H386.05 M373.05,678.12 H386.05" fill="none" stroke="#231f20" stroke-width="2.2"/>
<path d="M431.47,655.25 V696.78 M424.97,655.25 H437.97 M424.97,696.78 H437.97" fill="none" stroke="#231f20" stroke-width="2.2"/>
<path d="M535.33,652.11 V715.05 M528.83,652.11 H541.83 M528.83,715.05 H541.83" fill="none" stroke="#231f20" stroke-width="2.2"/>
<path d="M587.25,532.65 V557.83 M580.75,532.65 H593.75 M580.75,557.83 H593.75" fill="none" stroke="#231f20" stroke-width="2.2"/>
<path d="M639.17,499.25 V543.31 M632.67,499.25 H645.67 M632.67,543.31 H645.67" fill="none" stroke="#231f20" stroke-width="2.2"/>
<path d="M691.1,409.08 V427.96 M684.6,409.08 H697.6 M684.6,427.96 H697.6" fill="none" stroke="#231f20" stroke-width="2.2"/>
<path d="M743.02,408.36 V427.24 M736.52,408.36 H749.52 M736.52,427.24 H749.52" fill="none" stroke="#231f20" stroke-width="2.2"/>
<path d="M794.95,406.75 V428.78 M788.45,406.75 H801.45 M788.45,428.78 H801.45" fill="none" stroke="#231f20" stroke-width="2.2"/>
<path d="M275.7,664.8 L280.89,664.8 L286.08,664.8 L291.28,664.8 L296.47,664.8 L301.66,664.8 L306.85,664.8 L312.05,664.8 L317.24,664.8 L322.43,664.8 L327.62,664.8 L332.82,664.8 L338.01,664.8 L343.2,664.8 L348.39,664.8 L353.59,664.8 L358.78,664.8 L363.97,664.8 L369.16,664.8 L374.36,664.8 L379.55,664.8 L384.74,664.8 L389.94,664.8 L395.13,664.8 L400.32,664.8 L405.51,664.8 L410.7,664.8 L415.9,664.8 L421.09,664.8 L426.28,664.8 L431.47,664.8 L436.67,664.8 L441.86,664.8 L447.05,664.8 L452.25,664.8 L457.44,664.8 L462.63,664.8 L467.82,664.8 L473.01,664.8 L478.21,664.8 L483.4,664.8 L488.59,664.8 L493.78,664.8 L498.98,664.79 L504.17,664.79 L509.36,664.79 L514.55,664.78 L519.75,664.77 L524.94,664.76 L530.13,664.73 L535.33,664.7 L540.52,664.65 L545.71,664.57 L550.9,664.45 L556.1,664.27 L561.29,663.99 L566.48,663.58 L571.67,662.96 L576.87,662.02 L582.06,660.62 L587.25,658.53 L592.44,655.44 L597.63,650.9 L602.83,644.35 L608.02,635.12 L613.21,622.51 L618.4,605.99 L623.6,585.54 L628.79,561.9 L633.98,536.64 L639.17,511.84 L644.37,489.41 L649.56,470.6 L654.75,455.79 L659.94,444.7 L665.14,436.7 L670.33,431.09 L675.52,427.23 L680.71,424.61 L685.91,422.84 L691.1,421.66 L696.29,420.88 L701.48,420.36 L706.68,420.01 L711.87,419.78 L717.06,419.63 L722.25,419.53 L727.45,419.46 L732.64,419.42 L737.83,419.39 L743.02,419.37 L748.22,419.36 L753.41,419.35 L758.6,419.34 L763.79,419.34 L768.99,419.34 L774.18,419.34 L779.37,419.34 L784.57,419.34 L789.76,419.33 L794.95,419.33" fill="none" stroke="#231f20" stroke-width="2.1" stroke-linejoin="round"/>
<polygon points="275.7,657.92 284.7,667.37 275.7,676.82 266.7,667.37" fill="#231f20" stroke="#231f20" stroke-width="0" stroke-linejoin="miter" />
<polygon points="327.62,658.75 336.62,668.2 327.62,677.65 318.62,668.2" fill="#231f20" stroke="#231f20" stroke-width="0" stroke-linejoin="miter" />
<polygon points="379.55,664.06 388.55,673.51 379.55,682.96 370.55,673.51" fill="#231f20" stroke="#231f20" stroke-width="0" stroke-linejoin="miter" />
<polygon points="431.47,666.56 440.47,676.01 431.47,685.46 422.47,676.01" fill="#231f20" stroke="#231f20" stroke-width="0" stroke-linejoin="miter" />
<polygon points="483.4,654.78 492.4,664.23 483.4,673.68 474.4,664.23" fill="#231f20" stroke="#231f20" stroke-width="0" stroke-linejoin="miter" />
<polygon points="535.33,674.13 544.33,683.58 535.33,693.03 526.33,683.58" fill="#231f20" stroke="#231f20" stroke-width="0" stroke-linejoin="miter" />
<polygon points="587.25,535.79 596.25,545.24 587.25,554.69 578.25,545.24" fill="#231f20" stroke="#231f20" stroke-width="0" stroke-linejoin="miter" />
<polygon points="639.17,511.83 648.17,521.28 639.17,530.73 630.17,521.28" fill="#231f20" stroke="#231f20" stroke-width="0" stroke-linejoin="miter" />
<polygon points="691.1,409.07 700.1,418.52 691.1,427.97 682.1,418.52" fill="#231f20" stroke="#231f20" stroke-width="0" stroke-linejoin="miter" />
<polygon points="743.02,408.35 752.02,417.8 743.02,427.25 734.02,417.8" fill="#231f20" stroke="#231f20" stroke-width="0" stroke-linejoin="miter" />
<polygon points="794.95,408.31 803.95,417.76 794.95,427.21 785.95,417.76" fill="#231f20" stroke="#231f20" stroke-width="0" stroke-linejoin="miter" />
</g>
<g>
<path d="M275.7,661.26 V704.99 M269.2,661.26 H282.2 M269.2,704.99 H282.2" fill="none" stroke="#231f20" stroke-width="2.2"/>
<path d="M327.62,688.15 V707.03 M321.12,688.15 H334.12 M321.12,707.03 H334.12" fill="none" stroke="#231f20" stroke-width="2.2"/>
<path d="M379.55,677.95 V696.83 M373.05,677.95 H386.05 M373.05,696.83 H386.05" fill="none" stroke="#231f20" stroke-width="2.2"/>
<path d="M431.47,656.39 V675.02 M424.97,656.39 H437.97 M424.97,675.02 H437.97" fill="none" stroke="#231f20" stroke-width="2.2"/>
<path d="M535.33,533.06 V584.11 M528.83,533.06 H541.83 M528.83,584.11 H541.83" fill="none" stroke="#231f20" stroke-width="2.2"/>
<path d="M587.25,432.81 V474.46 M580.75,432.81 H593.75 M580.75,474.46 H593.75" fill="none" stroke="#231f20" stroke-width="2.2"/>
<path d="M639.17,356.6 V381.78 M632.67,356.6 H645.67 M632.67,381.78 H645.67" fill="none" stroke="#231f20" stroke-width="2.2"/>
<path d="M275.7,686.25 L280.89,686.18 L286.08,686.1 L291.28,686.01 L296.47,685.91 L301.66,685.8 L306.85,685.67 L312.05,685.53 L317.24,685.37 L322.43,685.2 L327.62,685 L332.82,684.78 L338.01,684.53 L343.2,684.25 L348.39,683.94 L353.59,683.59 L358.78,683.19 L363.97,682.75 L369.16,682.26 L374.36,681.71 L379.55,681.1 L384.74,680.41 L389.94,679.64 L395.13,678.78 L400.32,677.83 L405.51,676.76 L410.7,675.56 L415.9,674.23 L421.09,672.75 L426.28,671.11 L431.47,669.27 L436.67,667.24 L441.86,664.99 L447.05,662.49 L452.25,659.73 L457.44,656.68 L462.63,653.33 L467.82,649.64 L473.01,645.59 L478.21,641.15 L483.4,636.31 L488.59,631.04 L493.78,625.33 L498.98,619.14 L504.17,612.49 L509.36,605.34 L514.55,597.7 L519.75,589.58 L524.94,580.99 L530.13,571.94 L535.33,562.46 L540.52,552.59 L545.71,542.38 L550.9,531.86 L556.1,521.12 L561.29,510.2 L566.48,499.18 L571.67,488.13 L576.87,477.13 L582.06,466.24 L587.25,455.54 L592.44,445.09 L597.63,434.95 L602.83,425.16 L608.02,415.77 L613.21,406.82 L618.4,398.33 L623.6,390.31 L628.79,382.78 L633.98,375.74 L639.17,369.19 L644.37,363.11 L649.56,357.49 L654.75,352.32 L659.94,347.57 L665.14,343.22 L670.33,339.25 L675.52,335.64 L680.71,332.35 L685.91,329.37 L691.1,326.67 L696.29,324.22 L701.48,322.02 L706.68,320.03 L711.87,318.24 L717.06,316.63 L722.25,315.19 L727.45,313.89 L732.64,312.72 L737.83,311.68 L743.02,310.74 L748.22,309.91 L753.41,309.16 L758.6,308.49 L763.79,307.89 L768.99,307.35 L774.18,306.87 L779.37,306.44 L784.57,306.06 L789.76,305.72 L794.95,305.41" fill="none" stroke="#231f20" stroke-width="2.1" stroke-linejoin="round"/>
<polygon points="284.55,683.13 280.12,690.79 271.27,690.79 266.85,683.13 271.27,675.46 280.12,675.46" fill="#231f20" stroke="#231f20" stroke-width="0" stroke-linejoin="miter" />
<polygon points="336.48,697.59 332.05,705.25 323.2,705.25 318.77,697.59 323.2,689.92 332.05,689.92" fill="#231f20" stroke="#231f20" stroke-width="0" stroke-linejoin="miter" />
<polygon points="388.4,687.39 383.97,695.06 375.12,695.06 370.7,687.39 375.12,679.73 383.97,679.73" fill="#231f20" stroke="#231f20" stroke-width="0" stroke-linejoin="miter" />
<polygon points="440.32,665.7 435.9,673.37 427.05,673.37 422.62,665.7 427.05,658.04 435.9,658.04" fill="#231f20" stroke="#231f20" stroke-width="0" stroke-linejoin="miter" />
<polygon points="492.25,649.42 487.82,657.09 478.97,657.09 474.55,649.42 478.97,641.76 487.82,641.76" fill="#231f20" stroke="#231f20" stroke-width="0" stroke-linejoin="miter" />
<polygon points="544.18,558.59 539.75,566.25 530.9,566.25 526.48,558.59 530.9,550.92 539.75,550.92" fill="#231f20" stroke="#231f20" stroke-width="0" stroke-linejoin="miter" />
<polygon points="596.1,453.64 591.67,461.3 582.83,461.3 578.4,453.64 582.83,445.97 591.67,445.97" fill="#231f20" stroke="#231f20" stroke-width="0" stroke-linejoin="miter" />
<polygon points="648.02,369.19 643.6,376.85 634.75,376.85 630.32,369.19 634.75,361.53 643.6,361.53" fill="#231f20" stroke="#231f20" stroke-width="0" stroke-linejoin="miter" />
<polygon points="699.95,326.67 695.52,334.33 686.67,334.33 682.25,326.67 686.67,319 695.52,319" fill="#231f20" stroke="#231f20" stroke-width="0" stroke-linejoin="miter" />
<polygon points="751.88,310.74 747.45,318.41 738.6,318.41 734.17,310.74 738.6,303.08 747.45,303.08" fill="#231f20" stroke="#231f20" stroke-width="0" stroke-linejoin="miter" />
<polygon points="803.8,305.41 799.38,313.08 790.53,313.08 786.1,305.41 790.53,297.75 799.38,297.75" fill="#231f20" stroke="#231f20" stroke-width="0" stroke-linejoin="miter" />
</g>
</g>
<g id="right-chart">
<path d="M1055.4,296.32 H1074.4 V800.16 H1055.4" fill="none" stroke="#231f20" stroke-width="4.4" stroke-linejoin="miter"/>
<line x1="1055.4" y1="737.18" x2="1074.4" y2="737.18" stroke="#231f20" stroke-width="4.4"/>
<line x1="1055.4" y1="674.2" x2="1074.4" y2="674.2" stroke="#231f20" stroke-width="4.4"/>
<line x1="1055.4" y1="611.22" x2="1074.4" y2="611.22" stroke="#231f20" stroke-width="4.4"/>
<line x1="1055.4" y1="548.24" x2="1074.4" y2="548.24" stroke="#231f20" stroke-width="4.4"/>
<line x1="1055.4" y1="485.26" x2="1074.4" y2="485.26" stroke="#231f20" stroke-width="4.4"/>
<line x1="1055.4" y1="422.28" x2="1074.4" y2="422.28" stroke="#231f20" stroke-width="4.4"/>
<line x1="1055.4" y1="359.3" x2="1074.4" y2="359.3" stroke="#231f20" stroke-width="4.4"/>
<line x1="1074.4" y1="674.2" x2="1801.76" y2="674.2" stroke="#231f20" stroke-width="4.4"/>
<line x1="1177.6" y1="674.2" x2="1177.6" y2="693.2" stroke="#231f20" stroke-width="4.4"/>
<line x1="1281.26" y1="674.2" x2="1281.26" y2="693.2" stroke="#231f20" stroke-width="4.4"/>
<line x1="1384.92" y1="674.2" x2="1384.92" y2="693.2" stroke="#231f20" stroke-width="4.4"/>
<line x1="1488.58" y1="674.2" x2="1488.58" y2="693.2" stroke="#231f20" stroke-width="4.4"/>
<line x1="1592.24" y1="674.2" x2="1592.24" y2="693.2" stroke="#231f20" stroke-width="4.4"/>
<line x1="1695.9" y1="674.2" x2="1695.9" y2="693.2" stroke="#231f20" stroke-width="4.4"/>
<line x1="1799.56" y1="674.2" x2="1799.56" y2="693.2" stroke="#231f20" stroke-width="4.4"/>
<text x="1050.8" y="808.76" text-anchor="end" font-size="24.4">-40</text>
<text x="1050.8" y="745.78" text-anchor="end" font-size="24.4">-20</text>
<text x="1050.8" y="682.8" text-anchor="end" font-size="24.4">0</text>
<text x="1050.8" y="619.82" text-anchor="end" font-size="24.4">20</text>
<text x="1050.8" y="556.84" text-anchor="end" font-size="24.4">40</text>
<text x="1050.8" y="493.86" text-anchor="end" font-size="24.4">60</text>
<text x="1050.8" y="430.88" text-anchor="end" font-size="24.4">80</text>
<text x="1050.8" y="367.9" text-anchor="end" font-size="24.4">100</text>
<text x="1050.8" y="304.92" text-anchor="end" font-size="24.4">120</text>
<text x="1177.6" y="819.86" text-anchor="middle" font-size="24.4">0.0001</text>
<text x="1281.26" y="819.86" text-anchor="middle" font-size="24.4">0.001</text>
<text x="1384.92" y="819.86" text-anchor="middle" font-size="24.4">0.01</text>
<text x="1488.58" y="819.86" text-anchor="middle" font-size="24.4">0.1</text>
<text x="1592.24" y="819.86" text-anchor="middle" font-size="24.4">1</text>
<text x="1695.9" y="819.86" text-anchor="middle" font-size="24.4">10</text>
<text x="1799.56" y="819.86" text-anchor="middle" font-size="24.4">100</text>
<g>
<path d="M1177.6,667.9 V686.8 M1169.8,667.9 H1185.4 M1169.8,686.8 H1185.4" fill="none" stroke="#231f20" stroke-width="2.2"/>
<path d="M1229.43,667.9 V686.8 M1221.63,667.9 H1237.23 M1221.63,686.8 H1237.23" fill="none" stroke="#231f20" stroke-width="2.2"/>
<path d="M1281.26,667.9 V686.8 M1273.46,667.9 H1289.06 M1273.46,686.8 H1289.06" fill="none" stroke="#231f20" stroke-width="2.2"/>
<path d="M1333.09,664.75 V677.35 M1325.29,664.75 H1340.89 M1325.29,677.35 H1340.89" fill="none" stroke="#231f20" stroke-width="2.2"/>
<path d="M1384.92,655.62 V673.89 M1377.12,655.62 H1392.72 M1377.12,673.89 H1392.72" fill="none" stroke="#2b6a78" stroke-width="2.2"/>
<path d="M1436.75,626.65 V639.25 M1428.95,626.65 H1444.55 M1428.95,639.25 H1444.55" fill="none" stroke="#231f20" stroke-width="2.2"/>
<path d="M1488.58,559.89 V580.67 M1480.78,559.89 H1496.38 M1480.78,580.67 H1496.38" fill="none" stroke="#2b6a78" stroke-width="2.2"/>
<path d="M1540.41,489.04 V508.56 M1532.61,489.04 H1548.21 M1532.61,508.56 H1548.21" fill="none" stroke="#2b6a78" stroke-width="2.2"/>
<path d="M1177.6,680.04 L1182.78,679.99 L1187.97,679.94 L1193.15,679.88 L1198.33,679.81 L1203.51,679.74 L1208.7,679.67 L1213.88,679.58 L1219.06,679.49 L1224.25,679.39 L1229.43,679.27 L1234.61,679.15 L1239.8,679.01 L1244.98,678.86 L1250.16,678.69 L1255.34,678.5 L1260.53,678.3 L1265.71,678.07 L1270.89,677.83 L1276.08,677.56 L1281.26,677.26 L1286.44,676.93 L1291.63,676.57 L1296.81,676.17 L1301.99,675.73 L1307.17,675.25 L1312.36,674.72 L1317.54,674.14 L1322.72,673.5 L1327.91,672.8 L1333.09,672.03 L1338.27,671.19 L1343.46,670.26 L1348.64,669.25 L1353.82,668.14 L1359,666.93 L1364.19,665.6 L1369.37,664.16 L1374.55,662.58 L1379.74,660.86 L1384.92,658.99 L1390.1,656.95 L1395.29,654.74 L1400.47,652.35 L1405.65,649.75 L1410.83,646.95 L1416.02,643.93 L1421.2,640.67 L1426.38,637.18 L1431.57,633.43 L1436.75,629.43 L1441.93,625.16 L1447.12,620.62 L1452.3,615.81 L1457.48,610.73 L1462.66,605.37 L1467.85,599.76 L1473.03,593.88 L1478.21,587.77 L1483.4,581.43 L1488.58,574.88 L1493.76,568.14 L1498.95,561.24 L1504.13,554.21 L1509.31,547.08 L1514.49,539.88 L1519.68,532.64 L1524.86,525.41 L1530.04,518.21 L1535.23,511.07 L1540.41,504.04 L1545.59,497.13 L1550.78,490.39 L1555.96,483.83 L1561.14,477.48 L1566.32,471.35 L1571.51,465.47 L1576.69,459.84 L1581.87,454.48 L1587.06,449.39 L1592.24,444.56 L1597.42,440.01 L1602.61,435.73 L1607.79,431.72 L1612.97,427.96 L1618.15,424.46 L1623.34,421.19 L1628.52,418.16 L1633.7,415.35 L1638.89,412.75 L1644.07,410.34 L1649.25,408.13 L1654.44,406.08 L1659.62,404.2 L1664.8,402.48 L1669.98,400.89 L1675.17,399.44 L1680.35,398.11 L1685.53,396.9 L1690.72,395.78 L1695.9,394.77" fill="none" stroke="#231f20" stroke-width="2.4" stroke-linejoin="round"/>
<polygon points="1177.6,685.81 1186.3,668.89 1168.9,668.89" fill="#231f20" stroke="#231f20" stroke-width="0" stroke-linejoin="miter" />
<polygon points="1229.43,685.81 1238.13,668.89 1220.73,668.89" fill="#231f20" stroke="#231f20" stroke-width="0" stroke-linejoin="miter" />
<polygon points="1281.26,685.81 1289.96,668.89 1272.56,668.89" fill="#231f20" stroke="#231f20" stroke-width="0" stroke-linejoin="miter" />
<polygon points="1333.09,679.51 1341.79,662.59 1324.39,662.59" fill="#231f20" stroke="#231f20" stroke-width="0" stroke-linejoin="miter" />
<polygon points="1384.92,673.21 1393.62,656.29 1376.22,656.29" fill="#231f20" stroke="#231f20" stroke-width="0" stroke-linejoin="miter" />
<polygon points="1436.75,641.41 1445.45,624.49 1428.05,624.49" fill="#231f20" stroke="#231f20" stroke-width="0" stroke-linejoin="miter" />
<polygon points="1488.58,578.74 1497.28,561.82 1479.88,561.82" fill="#231f20" stroke="#231f20" stroke-width="0" stroke-linejoin="miter" />
<polygon points="1540.41,507.26 1549.11,490.34 1531.71,490.34" fill="#231f20" stroke="#231f20" stroke-width="0" stroke-linejoin="miter" />
<polygon points="1592.24,457.19 1600.94,440.27 1583.54,440.27" fill="#231f20" stroke="#231f20" stroke-width="0" stroke-linejoin="miter" />
<polygon points="1644.07,425.7 1652.77,408.78 1635.37,408.78" fill="#231f20" stroke="#231f20" stroke-width="0" stroke-linejoin="miter" />
<polygon points="1695.9,406.18 1704.6,389.26 1687.2,389.26" fill="#231f20" stroke="#231f20" stroke-width="0" stroke-linejoin="miter" />
</g>
<g>
<path d="M1177.6,664.75 V677.35 M1169.8,664.75 H1185.4 M1169.8,677.35 H1185.4" fill="none" stroke="#231f20" stroke-width="2.2"/>
<path d="M1229.43,666.33 V678.92 M1221.63,666.33 H1237.23 M1221.63,678.92 H1237.23" fill="none" stroke="#231f20" stroke-width="2.2"/>
<path d="M1281.26,592.64 V658.77 M1273.46,592.64 H1289.06 M1273.46,658.77 H1289.06" fill="none" stroke="#231f20" stroke-width="2.2"/>
<path d="M1333.09,661.6 V674.2 M1325.29,661.6 H1340.89 M1325.29,674.2 H1340.89" fill="none" stroke="#231f20" stroke-width="2.2"/>
<path d="M1384.92,623.82 V642.71 M1377.12,623.82 H1392.72 M1377.12,642.71 H1392.72" fill="none" stroke="#231f20" stroke-width="2.2"/>
<path d="M1436.75,587.92 V619.41 M1428.95,587.92 H1444.55 M1428.95,619.41 H1444.55" fill="none" stroke="#231f20" stroke-width="2.2"/>
<path d="M1488.58,532.5 V545.09 M1480.78,532.5 H1496.38 M1480.78,545.09 H1496.38" fill="none" stroke="#231f20" stroke-width="2.2"/>
<path d="M1540.41,421.34 V471.72 M1532.61,421.34 H1548.21 M1532.61,471.72 H1548.21" fill="none" stroke="#231f20" stroke-width="2.2"/>
<path d="M1177.6,667.65 L1182.78,667.62 L1187.97,667.59 L1193.15,667.55 L1198.33,667.51 L1203.51,667.46 L1208.7,667.41 L1213.88,667.34 L1219.06,667.28 L1224.25,667.2 L1229.43,667.12 L1234.61,667.02 L1239.8,666.91 L1244.98,666.79 L1250.16,666.66 L1255.34,666.51 L1260.53,666.34 L1265.71,666.15 L1270.89,665.93 L1276.08,665.7 L1281.26,665.43 L1286.44,665.13 L1291.63,664.8 L1296.81,664.42 L1301.99,664 L1307.17,663.53 L1312.36,663.01 L1317.54,662.42 L1322.72,661.77 L1327.91,661.04 L1333.09,660.22 L1338.27,659.31 L1343.46,658.3 L1348.64,657.17 L1353.82,655.91 L1359,654.51 L1364.19,652.96 L1369.37,651.24 L1374.55,649.33 L1379.74,647.22 L1384.92,644.89 L1390.1,642.32 L1395.29,639.5 L1400.47,636.4 L1405.65,633 L1410.83,629.29 L1416.02,625.25 L1421.2,620.87 L1426.38,616.12 L1431.57,611 L1436.75,605.51 L1441.93,599.63 L1447.12,593.38 L1452.3,586.75 L1457.48,579.77 L1462.66,572.45 L1467.85,564.81 L1473.03,556.9 L1478.21,548.75 L1483.4,540.41 L1488.58,531.92 L1493.76,523.35 L1498.95,514.74 L1504.13,506.16 L1509.31,497.65 L1514.49,489.28 L1519.68,481.1 L1524.86,473.14 L1530.04,465.46 L1535.23,458.08 L1540.41,451.04 L1545.59,444.35 L1550.78,438.03 L1555.96,432.1 L1561.14,426.54 L1566.32,421.36 L1571.51,416.55 L1576.69,412.11 L1581.87,408.01 L1587.06,404.25 L1592.24,400.8 L1597.42,397.65 L1602.61,394.78 L1607.79,392.17 L1612.97,389.8 L1618.15,387.66 L1623.34,385.72 L1628.52,383.97 L1633.7,382.39 L1638.89,380.96 L1644.07,379.68 L1649.25,378.53 L1654.44,377.5 L1659.62,376.57 L1664.8,375.74 L1669.98,375 L1675.17,374.33 L1680.35,373.73 L1685.53,373.2 L1690.72,372.72 L1695.9,372.29" fill="none" stroke="#231f20" stroke-width="2.4" stroke-linejoin="round"/>
<polygon points="1177.6,662.59 1186.3,679.51 1168.9,679.51" fill="#231f20" stroke="#231f20" stroke-width="0" stroke-linejoin="miter" />
<polygon points="1229.43,664.17 1238.13,681.09 1220.73,681.09" fill="#231f20" stroke="#231f20" stroke-width="0" stroke-linejoin="miter" />
<polygon points="1281.26,617.25 1289.96,634.17 1272.56,634.17" fill="#231f20" stroke="#231f20" stroke-width="0" stroke-linejoin="miter" />
<polygon points="1333.09,659.44 1341.79,676.36 1324.39,676.36" fill="#231f20" stroke="#231f20" stroke-width="0" stroke-linejoin="miter" />
<polygon points="1384.92,624.8 1393.62,641.72 1376.22,641.72" fill="#231f20" stroke="#231f20" stroke-width="0" stroke-linejoin="miter" />
<polygon points="1436.75,595.2 1445.45,612.12 1428.05,612.12" fill="#231f20" stroke="#231f20" stroke-width="0" stroke-linejoin="miter" />
<polygon points="1488.58,530.33 1497.28,547.25 1479.88,547.25" fill="#231f20" stroke="#231f20" stroke-width="0" stroke-linejoin="miter" />
<polygon points="1540.41,438.07 1549.11,454.99 1531.71,454.99" fill="#231f20" stroke="#231f20" stroke-width="0" stroke-linejoin="miter" />
<polygon points="1592.24,388.63 1600.94,405.55 1583.54,405.55" fill="#231f20" stroke="#231f20" stroke-width="0" stroke-linejoin="miter" />
<polygon points="1644.07,372.88 1652.77,389.8 1635.37,389.8" fill="#231f20" stroke="#231f20" stroke-width="0" stroke-linejoin="miter" />
<polygon points="1695.9,363.44 1704.6,380.36 1687.2,380.36" fill="#231f20" stroke="#231f20" stroke-width="0" stroke-linejoin="miter" />
</g>
<g>
<path d="M1177.6,657.51 V676.4 M1169.8,657.51 H1185.4 M1169.8,676.4 H1185.4" fill="none" stroke="#231f20" stroke-width="2.2"/>
<path d="M1229.43,643.97 V677.98 M1221.63,643.97 H1237.23 M1221.63,677.98 H1237.23" fill="none" stroke="#231f20" stroke-width="2.2"/>
<path d="M1281.26,656.88 V672.63 M1273.46,656.88 H1289.06 M1273.46,672.63 H1289.06" fill="none" stroke="#2b6a78" stroke-width="2.2"/>
<path d="M1333.09,658.46 V671.05 M1325.29,658.46 H1340.89 M1325.29,671.05 H1340.89" fill="none" stroke="#231f20" stroke-width="2.2"/>
<path d="M1384.92,598.94 V632.95 M1377.12,598.94 H1392.72 M1377.12,632.95 H1392.72" fill="none" stroke="#231f20" stroke-width="2.2"/>
<path d="M1436.75,525.57 V569.02 M1428.95,525.57 H1444.55 M1428.95,569.02 H1444.55" fill="none" stroke="#231f20" stroke-width="2.2"/>
<path d="M1488.58,491.56 V510.45 M1480.78,491.56 H1496.38 M1480.78,510.45 H1496.38" fill="none" stroke="#77787b" stroke-width="2.2"/>
<path d="M1540.41,425.43 V438.03 M1532.61,425.43 H1548.21 M1532.61,438.03 H1548.21" fill="none" stroke="#231f20" stroke-width="2.2"/>
<path d="M1177.6,666.84 L1182.78,666.72 L1187.97,666.6 L1193.15,666.45 L1198.33,666.3 L1203.51,666.12 L1208.7,665.93 L1213.88,665.72 L1219.06,665.48 L1224.25,665.22 L1229.43,664.93 L1234.61,664.61 L1239.8,664.25 L1244.98,663.86 L1250.16,663.42 L1255.34,662.94 L1260.53,662.41 L1265.71,661.82 L1270.89,661.17 L1276.08,660.46 L1281.26,659.67 L1286.44,658.8 L1291.63,657.84 L1296.81,656.79 L1301.99,655.62 L1307.17,654.35 L1312.36,652.94 L1317.54,651.41 L1322.72,649.72 L1327.91,647.87 L1333.09,645.85 L1338.27,643.65 L1343.46,641.25 L1348.64,638.64 L1353.82,635.8 L1359,632.72 L1364.19,629.4 L1369.37,625.81 L1374.55,621.96 L1379.74,617.82 L1384.92,613.39 L1390.1,608.67 L1395.29,603.65 L1400.47,598.34 L1405.65,592.74 L1410.83,586.85 L1416.02,580.7 L1421.2,574.29 L1426.38,567.64 L1431.57,560.79 L1436.75,553.75 L1441.93,546.56 L1447.12,539.26 L1452.3,531.89 L1457.48,524.47 L1462.66,517.05 L1467.85,509.68 L1473.03,502.38 L1478.21,495.2 L1483.4,488.17 L1488.58,481.33 L1493.76,474.69 L1498.95,468.29 L1504.13,462.15 L1509.31,456.27 L1514.49,450.68 L1519.68,445.38 L1524.86,440.38 L1530.04,435.67 L1535.23,431.25 L1540.41,427.12 L1545.59,423.28 L1550.78,419.7 L1555.96,416.39 L1561.14,413.32 L1566.32,410.5 L1571.51,407.89 L1576.69,405.5 L1581.87,403.3 L1587.06,401.29 L1592.24,399.45 L1597.42,397.77 L1602.61,396.24 L1607.79,394.84 L1612.97,393.57 L1618.15,392.41 L1623.34,391.36 L1628.52,390.41 L1633.7,389.54 L1638.89,388.75 L1644.07,388.04 L1649.25,387.4 L1654.44,386.81 L1659.62,386.28 L1664.8,385.8 L1669.98,385.37 L1675.17,384.98 L1680.35,384.63 L1685.53,384.31 L1690.72,384.02 L1695.9,383.76" fill="none" stroke="#231f20" stroke-width="2.4" stroke-linejoin="round"/>
<polygon points="1177.6,655.62 1188.4,666.96 1177.6,678.3 1166.8,666.96" fill="#231f20" stroke="#231f20" stroke-width="0" stroke-linejoin="miter" />
<polygon points="1229.43,649.63 1240.23,660.97 1229.43,672.31 1218.63,660.97" fill="#231f20" stroke="#231f20" stroke-width="0" stroke-linejoin="miter" />
<polygon points="1281.26,653.41 1292.06,664.75 1281.26,676.09 1270.46,664.75" fill="#231f20" stroke="#231f20" stroke-width="0" stroke-linejoin="miter" />
<polygon points="1333.09,653.41 1343.89,664.75 1333.09,676.09 1322.29,664.75" fill="#231f20" stroke="#231f20" stroke-width="0" stroke-linejoin="miter" />
<polygon points="1384.92,604.6 1395.72,615.94 1384.92,627.28 1374.12,615.94" fill="#231f20" stroke="#231f20" stroke-width="0" stroke-linejoin="miter" />
<polygon points="1436.75,535.96 1447.55,547.3 1436.75,558.64 1425.95,547.3" fill="#231f20" stroke="#231f20" stroke-width="0" stroke-linejoin="miter" />
<polygon points="1488.58,489.67 1499.38,501.01 1488.58,512.35 1477.78,501.01" fill="#231f20" stroke="#231f20" stroke-width="0" stroke-linejoin="miter" />
<polygon points="1540.41,420.39 1551.21,431.73 1540.41,443.07 1529.61,431.73" fill="#231f20" stroke="#231f20" stroke-width="0" stroke-linejoin="miter" />
<polygon points="1592.24,385.75 1603.04,397.09 1592.24,408.43 1581.44,397.09" fill="#231f20" stroke="#231f20" stroke-width="0" stroke-linejoin="miter" />
<polygon points="1644.07,373.15 1654.87,384.49 1644.07,395.83 1633.27,384.49" fill="#231f20" stroke="#231f20" stroke-width="0" stroke-linejoin="miter" />
<polygon points="1695.9,370.63 1706.7,381.97 1695.9,393.31 1685.1,381.97" fill="#231f20" stroke="#231f20" stroke-width="0" stroke-linejoin="miter" />
</g>
<g>
<path d="M1177.6,660.34 V698.13 M1169.8,660.34 H1185.4 M1169.8,698.13 H1185.4" fill="none" stroke="#77787b" stroke-width="2.2"/>
<path d="M1229.43,667.9 V680.5 M1221.63,667.9 H1237.23 M1221.63,680.5 H1237.23" fill="none" stroke="#231f20" stroke-width="2.2"/>
<path d="M1281.26,658.14 V704.75 M1273.46,658.14 H1289.06 M1273.46,704.75 H1289.06" fill="none" stroke="#77787b" stroke-width="2.2"/>
<path d="M1333.09,670.74 V707.26 M1325.29,670.74 H1340.89 M1325.29,707.26 H1340.89" fill="none" stroke="#14264f" stroke-width="2.2"/>
<path d="M1384.92,637.99 V656.88 M1377.12,637.99 H1392.72 M1377.12,656.88 H1392.72" fill="none" stroke="#231f20" stroke-width="2.2"/>
<path d="M1436.75,558.95 V596.73 M1428.95,558.95 H1444.55 M1428.95,596.73 H1444.55" fill="none" stroke="#77787b" stroke-width="2.2"/>
<path d="M1488.58,460.07 V478.96 M1480.78,460.07 H1496.38 M1480.78,478.96 H1496.38" fill="none" stroke="#231f20" stroke-width="2.2"/>
<path d="M1540.41,403.39 V415.98 M1532.61,403.39 H1548.21 M1532.61,415.98 H1548.21" fill="none" stroke="#231f20" stroke-width="2.2"/>
<path d="M1592.24,385.12 V412.83 M1584.44,385.12 H1600.04 M1584.44,412.83 H1600.04" fill="none" stroke="#77787b" stroke-width="2.2"/>
<path d="M1177.6,677.3 L1182.78,677.29 L1187.97,677.28 L1193.15,677.27 L1198.33,677.25 L1203.51,677.24 L1208.7,677.22 L1213.88,677.19 L1219.06,677.17 L1224.25,677.13 L1229.43,677.1 L1234.61,677.05 L1239.8,677 L1244.98,676.94 L1250.16,676.87 L1255.34,676.79 L1260.53,676.69 L1265.71,676.58 L1270.89,676.44 L1276.08,676.28 L1281.26,676.1 L1286.44,675.89 L1291.63,675.63 L1296.81,675.34 L1301.99,674.99 L1307.17,674.59 L1312.36,674.11 L1317.54,673.56 L1322.72,672.91 L1327.91,672.15 L1333.09,671.27 L1338.27,670.24 L1343.46,669.04 L1348.64,667.65 L1353.82,666.04 L1359,664.16 L1364.19,662 L1369.37,659.5 L1374.55,656.63 L1379.74,653.33 L1384.92,649.57 L1390.1,645.28 L1395.29,640.44 L1400.47,634.98 L1405.65,628.87 L1410.83,622.08 L1416.02,614.59 L1421.2,606.39 L1426.38,597.51 L1431.57,587.97 L1436.75,577.85 L1441.93,567.22 L1447.12,556.19 L1452.3,544.88 L1457.48,533.43 L1462.66,522 L1467.85,510.72 L1473.03,499.72 L1478.21,489.14 L1483.4,479.08 L1488.58,469.61 L1493.76,460.81 L1498.95,452.69 L1504.13,445.27 L1509.31,438.56 L1514.49,432.53 L1519.68,427.14 L1524.86,422.35 L1530.04,418.13 L1535.23,414.42 L1540.41,411.18 L1545.59,408.35 L1550.78,405.89 L1555.96,403.75 L1561.14,401.91 L1566.32,400.32 L1571.51,398.95 L1576.69,397.77 L1581.87,396.76 L1587.06,395.9 L1592.24,395.15 L1597.42,394.52 L1602.61,393.97 L1607.79,393.5 L1612.97,393.11 L1618.15,392.77 L1623.34,392.48 L1628.52,392.23 L1633.7,392.02 L1638.89,391.84 L1644.07,391.68 L1649.25,391.55 L1654.44,391.44 L1659.62,391.34 L1664.8,391.26 L1669.98,391.19 L1675.17,391.13 L1680.35,391.08 L1685.53,391.04 L1690.72,391 L1695.9,390.97" fill="none" stroke="#231f20" stroke-width="2.4" stroke-linejoin="round"/>
<circle cx="1177.6" cy="679.24" r="9" fill="#231f20"/>
<circle cx="1229.43" cy="674.2" r="9" fill="#231f20"/>
<circle cx="1281.26" cy="681.44" r="9" fill="#231f20"/>
<circle cx="1333.09" cy="689" r="9" fill="#231f20"/>
<circle cx="1384.92" cy="647.43" r="9" fill="#231f20"/>
<circle cx="1436.75" cy="577.84" r="9" fill="#231f20"/>
<circle cx="1488.58" cy="469.52" r="9" fill="#231f20"/>
<circle cx="1540.41" cy="409.68" r="9" fill="#231f20"/>
<circle cx="1592.24" cy="398.98" r="9" fill="#231f20"/>
<circle cx="1644.07" cy="392.99" r="9" fill="#231f20"/>
<circle cx="1695.9" cy="390.79" r="9" fill="#231f20"/>
</g>
<g>
<path d="M1177.6,641.45 V672.94 M1169.8,641.45 H1185.4 M1169.8,672.94 H1185.4" fill="none" stroke="#14264f" stroke-width="2.2"/>
<path d="M1229.43,664.44 V720.49 M1221.63,664.44 H1237.23 M1221.63,720.49 H1237.23" fill="none" stroke="#14264f" stroke-width="2.2"/>
<path d="M1281.26,657.51 V676.4 M1273.46,657.51 H1289.06 M1273.46,676.4 H1289.06" fill="none" stroke="#231f20" stroke-width="2.2"/>
<path d="M1333.09,621.93 V655.94 M1325.29,621.93 H1340.89 M1325.29,655.94 H1340.89" fill="none" stroke="#77787b" stroke-width="2.2"/>
<path d="M1384.92,643.02 V661.92 M1377.12,643.02 H1392.72 M1377.12,661.92 H1392.72" fill="none" stroke="#231f20" stroke-width="2.2"/>
<path d="M1436.75,551.39 V570.28 M1428.95,551.39 H1444.55 M1428.95,570.28 H1444.55" fill="none" stroke="#231f20" stroke-width="2.2"/>
<path d="M1488.58,445.9 V476.13 M1480.78,445.9 H1496.38 M1480.78,476.13 H1496.38" fill="none" stroke="#77787b" stroke-width="2.2"/>
<path d="M1540.41,381.97 V418.5 M1532.61,381.97 H1548.21 M1532.61,418.5 H1548.21" fill="none" stroke="#14264f" stroke-width="2.2"/>
<path d="M1592.24,375.99 V385.44 M1584.44,375.99 H1600.04 M1584.44,385.44 H1600.04" fill="none" stroke="#231f20" stroke-width="2.2"/>
<path d="M1177.6,674.04 L1182.78,674.01 L1187.97,673.98 L1193.15,673.95 L1198.33,673.91 L1203.51,673.87 L1208.7,673.82 L1213.88,673.76 L1219.06,673.7 L1224.25,673.62 L1229.43,673.53 L1234.61,673.43 L1239.8,673.32 L1244.98,673.18 L1250.16,673.03 L1255.34,672.86 L1260.53,672.65 L1265.71,672.42 L1270.89,672.16 L1276.08,671.85 L1281.26,671.5 L1286.44,671.1 L1291.63,670.64 L1296.81,670.11 L1301.99,669.51 L1307.17,668.81 L1312.36,668.02 L1317.54,667.11 L1322.72,666.07 L1327.91,664.89 L1333.09,663.53 L1338.27,661.99 L1343.46,660.24 L1348.64,658.25 L1353.82,656 L1359,653.45 L1364.19,650.57 L1369.37,647.33 L1374.55,643.7 L1379.74,639.64 L1384.92,635.12 L1390.1,630.1 L1395.29,624.56 L1400.47,618.48 L1405.65,611.84 L1410.83,604.64 L1416.02,596.87 L1421.2,588.57 L1426.38,579.75 L1431.57,570.46 L1436.75,560.76 L1441.93,550.73 L1447.12,540.46 L1452.3,530.03 L1457.48,519.54 L1462.66,509.11 L1467.85,498.83 L1473.03,488.79 L1478.21,479.08 L1483.4,469.78 L1488.58,460.95 L1493.76,452.62 L1498.95,444.84 L1504.13,437.62 L1509.31,430.96 L1514.49,424.86 L1519.68,419.31 L1524.86,414.28 L1530.04,409.74 L1535.23,405.66 L1540.41,402.02 L1545.59,398.77 L1550.78,395.88 L1555.96,393.32 L1561.14,391.06 L1566.32,389.06 L1571.51,387.3 L1576.69,385.76 L1581.87,384.4 L1587.06,383.21 L1592.24,382.17 L1597.42,381.25 L1602.61,380.46 L1607.79,379.76 L1612.97,379.15 L1618.15,378.62 L1623.34,378.16 L1628.52,377.75 L1633.7,377.4 L1638.89,377.1 L1644.07,376.83 L1649.25,376.6 L1654.44,376.39 L1659.62,376.22 L1664.8,376.07 L1669.98,375.93 L1675.17,375.82 L1680.35,375.72 L1685.53,375.63 L1690.72,375.55 L1695.9,375.49" fill="none" stroke="#231f20" stroke-width="2.4" stroke-linejoin="round"/>
<circle cx="1177.6" cy="657.2" r="9" fill="#231f20"/>
<circle cx="1229.43" cy="692.46" r="9" fill="#231f20"/>
<circle cx="1281.26" cy="666.96" r="9" fill="#231f20"/>
<circle cx="1333.09" cy="638.93" r="9" fill="#231f20"/>
<circle cx="1384.92" cy="652.47" r="9" fill="#231f20"/>
<circle cx="1436.75" cy="560.84" r="9" fill="#231f20"/>
<circle cx="1488.58" cy="461.01" r="9" fill="#231f20"/>
<circle cx="1540.41" cy="400.24" r="9" fill="#231f20"/>
<circle cx="1592.24" cy="380.71" r="9" fill="#231f20"/>
<circle cx="1644.07" cy="375.99" r="9" fill="#231f20"/>
<circle cx="1695.9" cy="375.05" r="9" fill="#231f20"/>
</g>
</g>
<text x="536.2" y="855.2" text-anchor="middle" font-size="28.3" font-weight="bold">EVO756 (µM)</text>
<text x="1437" y="865.2" text-anchor="middle" font-size="28.3" font-weight="bold">EVO756 (µM)</text>
<text transform="translate(87,543) rotate(-90)" text-anchor="middle" font-size="28" font-weight="bold">% Inhibition</text>
<text transform="translate(992,553) rotate(-90)" text-anchor="middle" font-size="28" font-weight="bold">% Inhibition</text>
<g id="legend-left">
<line x1="173.7" y1="913.9" x2="220.7" y2="913.9" stroke="#231f20" stroke-width="2.4"/>
<circle cx="197.2" cy="913.9" r="7.12" fill="#231f20"/>
<text x="248" y="920.8" font-size="18.55">ECP-1</text>
<line x1="174.9" y1="949.6" x2="221.9" y2="949.6" stroke="#231f20" stroke-width="2.4"/>
<rect x="191.61" y="942.81" width="13.59" height="13.59" fill="#231f20"/>
<text x="249.2" y="956.5" font-size="18.55">Cortistatin-14</text>
<line x1="173.7" y1="984.9" x2="220.7" y2="984.9" stroke="#231f20" stroke-width="2.4"/>
<polygon points="197.2,978.2 204.09,991.6 190.31,991.6" fill="#231f20" stroke="#231f20" stroke-width="0" stroke-linejoin="miter" />
<text x="248" y="991.8" font-size="18.55">Oxytocin</text>
<line x1="173.7" y1="1020.2" x2="220.7" y2="1020.2" stroke="#231f20" stroke-width="2.4"/>
<polygon points="197.2,1011.22 205.75,1020.2 197.2,1029.18 188.65,1020.2" fill="#231f20" stroke="#231f20" stroke-width="0" stroke-linejoin="miter" />
<text x="248" y="1027.1" font-size="18.55">CXCL-14</text>
<line x1="173.7" y1="1055.6" x2="220.7" y2="1055.6" stroke="#231f20" stroke-width="2.4"/>
<circle cx="197.2" cy="1055.6" r="6.37" fill="#fff" stroke="#231f20" stroke-width="3.13"/>
<text x="248" y="1062.5" font-size="18.55">LL-37</text>
<line x1="173.7" y1="1091" x2="220.7" y2="1091" stroke="#231f20" stroke-width="2.4"/>
<rect x="190.64" y="1084.44" width="13.11" height="13.11" fill="#fff" stroke="#231f20" stroke-width="3.13"/>
<text x="248" y="1097.9" font-size="18.55">PACAP 1-38</text>
<line x1="173.7" y1="1124.7" x2="220.7" y2="1124.7" stroke="#231f20" stroke-width="2.4"/>
<polygon points="197.2,1118.57 203.47,1130.83 190.93,1130.83" fill="#fff" stroke="#231f20" stroke-width="3.135" stroke-linejoin="miter" />
<text x="248" y="1131.6" font-size="18.55">VIP</text>
<line x1="427.8" y1="913.9" x2="474.8" y2="913.9" stroke="#231f20" stroke-width="2.4"/>
<polygon points="451.3,920.03 457.57,907.77 445.03,907.77" fill="#fff" stroke="#231f20" stroke-width="3.135" stroke-linejoin="miter" />
<text x="502" y="920.8" font-size="18.55">Neuropeptide FF</text>
<line x1="427.8" y1="949.6" x2="474.8" y2="949.6" stroke="#231f20" stroke-width="2.4"/>
<polygon points="457.57,949.6 454.44,955.03 448.17,955.03 445.03,949.6 448.17,944.17 454.44,944.17" fill="#fff" stroke="#231f20" stroke-width="3.135" stroke-linejoin="miter" /><polygon points="445.03,949.6 448.17,944.17 454.44,944.17 457.57,949.6" fill="#231f20" stroke="#231f20" stroke-width="0" stroke-linejoin="miter" />
<text x="502" y="956.5" font-size="18.55">β-Defensin 2</text>
<line x1="427.8" y1="984.9" x2="474.8" y2="984.9" stroke="#231f20" stroke-width="2.4"/>
<polygon points="457.57,984.9 454.44,990.33 448.17,990.33 445.03,984.9 448.17,979.47 454.44,979.47" fill="#fff" stroke="#231f20" stroke-width="3.135" stroke-linejoin="miter" /><polygon points="445.03,984.9 448.17,990.33 454.44,990.33 457.57,984.9" fill="#231f20" stroke="#231f20" stroke-width="0" stroke-linejoin="miter" />
<text x="502" y="991.8" font-size="18.55">Catestatin</text>
<line x1="430.1" y1="1020.2" x2="477.1" y2="1020.2" stroke="#231f20" stroke-width="2.4"/>
<polygon points="453.6,1013.74 459.59,1020.2 453.6,1026.66 447.62,1020.2" fill="#fff" stroke="#231f20" stroke-width="3.135" stroke-linejoin="miter" />
<text x="504.3" y="1027.1" font-size="18.55">Dynorphin A</text>
<line x1="430.1" y1="1055.6" x2="477.1" y2="1055.6" stroke="#231f20" stroke-width="2.4"/>
<line x1="453.6" y1="1046.86" x2="453.6" y2="1064.34" stroke="#231f20" stroke-width="3.23"/><line x1="459.24" y1="1049.96" x2="447.96" y2="1061.24" stroke="#231f20" stroke-width="3.23"/><line x1="462.34" y1="1055.6" x2="444.86" y2="1055.6" stroke="#231f20" stroke-width="3.23"/><line x1="459.24" y1="1061.24" x2="447.96" y2="1049.96" stroke="#231f20" stroke-width="3.23"/>
<text x="504.3" y="1062.5" font-size="18.55">PAMP-12</text>
<line x1="430.1" y1="1091" x2="477.1" y2="1091" stroke="#231f20" stroke-width="2.4"/>
<circle cx="453.6" cy="1091" r="6.46" fill="#fff" stroke="#231f20" stroke-width="3.13"/><path d="M453.6,1084.54 A6.46,6.46 0 0 0 453.6,1097.46 Z" fill="#231f20"/>
<text x="504.3" y="1097.9" font-size="18.55">Somatostatin-14</text>
<line x1="430.1" y1="1124.7" x2="477.1" y2="1124.7" stroke="#231f20" stroke-width="2.4"/>
<circle cx="453.6" cy="1124.7" r="6.46" fill="#fff" stroke="#231f20" stroke-width="3.13"/><path d="M453.6,1118.24 A6.46,6.46 0 0 1 453.6,1131.16 Z" fill="#231f20"/>
<text x="504.3" y="1131.6" font-size="18.55">Substance P</text>
<line x1="705.8" y1="913.9" x2="752.8" y2="913.9" stroke="#231f20" stroke-width="2.4"/>
<polygon points="729.3,920.03 735.57,907.77 723.03,907.77" fill="#fff" stroke="#231f20" stroke-width="3.135" stroke-linejoin="miter" /><polygon points="729.3,920.03 729.3,907.77 723.03,907.77" fill="#231f20" stroke="#231f20" stroke-width="0" stroke-linejoin="miter" />
<text x="780" y="920.8" font-size="18.55">Dynorphin B</text>
<line x1="705.8" y1="949.6" x2="752.8" y2="949.6" stroke="#231f20" stroke-width="2.4"/>
<polygon points="729.3,955.73 735.57,943.47 723.03,943.47" fill="#fff" stroke="#231f20" stroke-width="3.135" stroke-linejoin="miter" /><polygon points="729.3,955.73 729.3,943.47 735.57,943.47" fill="#231f20" stroke="#231f20" stroke-width="0" stroke-linejoin="miter" />
<text x="780" y="956.5" font-size="18.55">CNP(1-22)</text>
<line x1="705.8" y1="984.9" x2="752.8" y2="984.9" stroke="#231f20" stroke-width="2.4"/>
<polygon points="729.3,978.44 735.28,984.9 729.3,991.36 723.31,984.9" fill="#fff" stroke="#231f20" stroke-width="3.135" stroke-linejoin="miter" /><polygon points="729.3,978.44 735.28,984.9 723.31,984.9" fill="#231f20" stroke="#231f20" stroke-width="0" stroke-linejoin="miter" />
<text x="780" y="991.8" font-size="18.55">Hemokinin-1</text>
<line x1="705.8" y1="1020.2" x2="752.8" y2="1020.2" stroke="#231f20" stroke-width="2.4"/>
<polygon points="729.3,1013.74 735.28,1020.2 729.3,1026.66 723.31,1020.2" fill="#fff" stroke="#231f20" stroke-width="3.135" stroke-linejoin="miter" /><polygon points="729.3,1026.66 735.28,1020.2 723.31,1020.2" fill="#231f20" stroke="#231f20" stroke-width="0" stroke-linejoin="miter" />
<text x="780" y="1027.1" font-size="18.55">PACAP 1-27</text>
<line x1="705.8" y1="1055.6" x2="752.8" y2="1055.6" stroke="#231f20" stroke-width="2.4"/>
<polygon points="737.71,1055.6 733.5,1062.88 725.1,1062.88 720.89,1055.6 725.1,1048.32 733.5,1048.32" fill="#231f20" stroke="#231f20" stroke-width="0" stroke-linejoin="miter" />
<text x="780" y="1062.5" font-size="18.55">BAM 8-22</text>
<line x1="705.8" y1="1091" x2="752.8" y2="1091" stroke="#231f20" stroke-width="2.4"/>
<polygon points="735.57,1091 732.43,1096.43 726.16,1096.43 723.03,1091 726.16,1085.57 732.43,1085.57" fill="#fff" stroke="#231f20" stroke-width="3.135" stroke-linejoin="miter" /><polygon points="729.3,1085.57 726.16,1085.57 723.03,1091 726.16,1096.43 729.3,1096.43" fill="#231f20" stroke="#231f20" stroke-width="0" stroke-linejoin="miter" />
<text x="780" y="1097.9" font-size="18.55">Vasopressin</text>
<line x1="705.8" y1="1124.7" x2="752.8" y2="1124.7" stroke="#231f20" stroke-width="2.4"/>
<polygon points="735.57,1124.7 732.43,1130.13 726.16,1130.13 723.03,1124.7 726.16,1119.27 732.43,1119.27" fill="#fff" stroke="#231f20" stroke-width="3.135" stroke-linejoin="miter" /><polygon points="729.3,1119.27 732.43,1119.27 735.57,1124.7 732.43,1130.13 729.3,1130.13" fill="#231f20" stroke="#231f20" stroke-width="0" stroke-linejoin="miter" />
<text x="780" y="1131.6" font-size="18.55">Kallidin</text>
</g>
<g id="legend-right">
<line x1="1157.1" y1="927.1" x2="1204.1" y2="927.1" stroke="#231f20" stroke-width="2.4"/>
<polygon points="1180.6,915.76 1191.4,927.1 1180.6,938.44 1169.8,927.1" fill="#231f20" stroke="#231f20" stroke-width="0" stroke-linejoin="miter" />
<text x="1231.5" y="934" font-size="18.55">Compound 48/80</text>
<line x1="1157.1" y1="963.7" x2="1204.1" y2="963.7" stroke="#231f20" stroke-width="2.4"/>
<circle cx="1180.6" cy="963.7" r="9" fill="#231f20"/>
<text x="1231.5" y="970.6" font-size="18.55">Ciproflaxcin</text>
<line x1="1157.1" y1="1000.2" x2="1204.1" y2="1000.2" stroke="#231f20" stroke-width="2.4"/>
<polygon points="1180.6,1008.66 1189.3,991.74 1171.9,991.74" fill="#231f20" stroke="#231f20" stroke-width="0" stroke-linejoin="miter" />
<text x="1231.5" y="1007.1" font-size="18.55">Chlorpromazine</text>
<line x1="1467.1" y1="927.1" x2="1514.1" y2="927.1" stroke="#231f20" stroke-width="2.4"/>
<polygon points="1490.6,918.64 1499.3,935.56 1481.9,935.56" fill="#231f20" stroke="#231f20" stroke-width="0" stroke-linejoin="miter" />
<text x="1541.5" y="934" font-size="18.55">Dextromethorphan</text>
<line x1="1467.1" y1="963.7" x2="1514.1" y2="963.7" stroke="#231f20" stroke-width="2.4"/>
<circle cx="1490.6" cy="963.7" r="9" fill="#231f20"/>
<text x="1541.5" y="970.6" font-size="18.55">Icatibant<tspan font-size="12.5" dx="3.5" dy="-12">1</tspan></text>
</g>
</svg></body></html>
